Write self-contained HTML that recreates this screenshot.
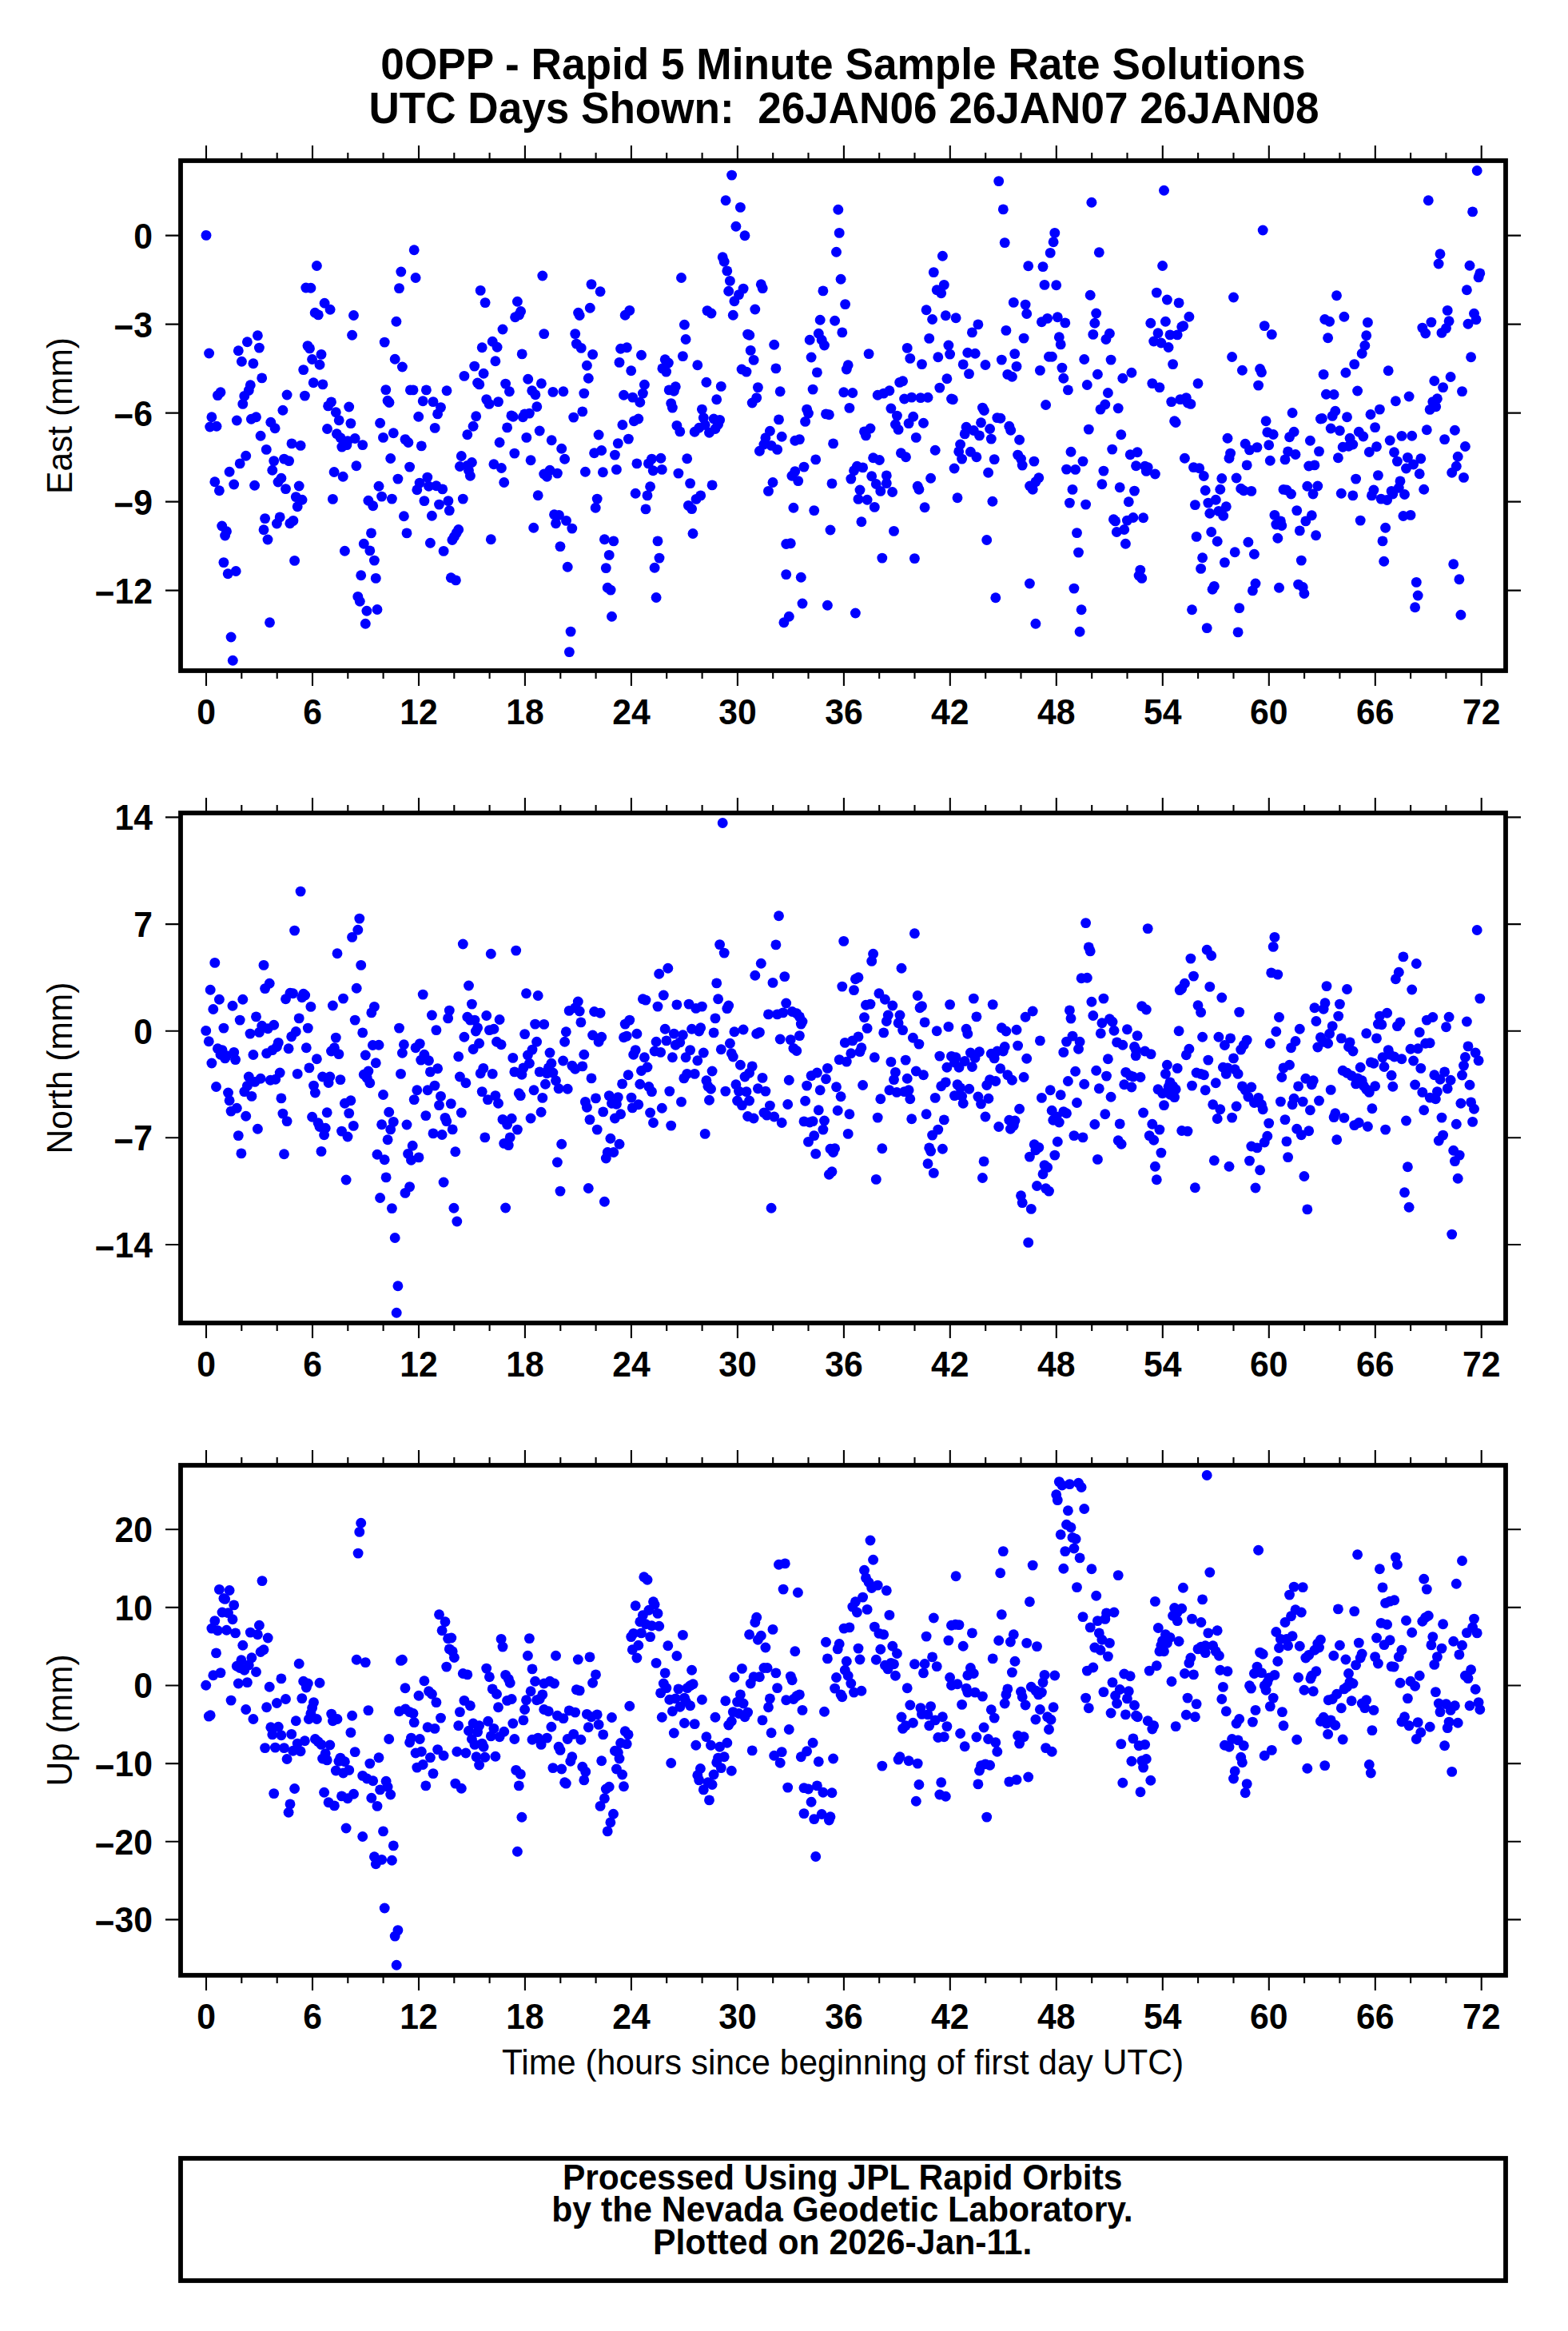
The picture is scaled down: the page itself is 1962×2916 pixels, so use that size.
<!DOCTYPE html>
<html lang="en"><head><meta charset="utf-8"><title>0OPP - Rapid 5 Minute Sample Rate Solutions</title>
<style>html,body{margin:0;padding:0;background:#fff}svg{display:block}text{font-family:"Liberation Sans",Arial,Helvetica,sans-serif;fill:#000}.b{font-weight:bold}.t{font-size:53.2px;text-anchor:middle}.a{font-size:42.7px}.l{font-size:42.5px;text-anchor:middle}.f{font-size:42.7px;text-anchor:middle}</style></head><body>
<svg width="1962" height="2916" viewBox="0 0 1962 2916">
<rect width="1962" height="2916" fill="#fff"/>
<text class="b t" transform="translate(1055.0 98.9) scale(1 1.06)">0OPP - Rapid 5 Minute Sample Rate Solutions</text>
<text class="b t" transform="translate(1056.0 153.8) scale(1 1.06)" xml:space="preserve" style="font-size:53.1px">UTC Days Shown:  26JAN06 26JAN07 26JAN08</text>
<path d="M258.0 201.0v-19.0M258.0 839.0v19.0M302.3 201.0v-10.0M302.3 839.0v10.0M346.7 201.0v-10.0M346.7 839.0v10.0M391.0 201.0v-19.0M391.0 839.0v19.0M435.3 201.0v-10.0M435.3 839.0v10.0M479.6 201.0v-10.0M479.6 839.0v10.0M524.0 201.0v-19.0M524.0 839.0v19.0M568.3 201.0v-10.0M568.3 839.0v10.0M612.6 201.0v-10.0M612.6 839.0v10.0M656.9 201.0v-19.0M656.9 839.0v19.0M701.3 201.0v-10.0M701.3 839.0v10.0M745.6 201.0v-10.0M745.6 839.0v10.0M789.9 201.0v-19.0M789.9 839.0v19.0M834.2 201.0v-10.0M834.2 839.0v10.0M878.6 201.0v-10.0M878.6 839.0v10.0M922.9 201.0v-19.0M922.9 839.0v19.0M967.2 201.0v-10.0M967.2 839.0v10.0M1011.5 201.0v-10.0M1011.5 839.0v10.0M1055.9 201.0v-19.0M1055.9 839.0v19.0M1100.2 201.0v-10.0M1100.2 839.0v10.0M1144.5 201.0v-10.0M1144.5 839.0v10.0M1188.8 201.0v-19.0M1188.8 839.0v19.0M1233.2 201.0v-10.0M1233.2 839.0v10.0M1277.5 201.0v-10.0M1277.5 839.0v10.0M1321.8 201.0v-19.0M1321.8 839.0v19.0M1366.2 201.0v-10.0M1366.2 839.0v10.0M1410.5 201.0v-10.0M1410.5 839.0v10.0M1454.8 201.0v-19.0M1454.8 839.0v19.0M1499.1 201.0v-10.0M1499.1 839.0v10.0M1543.5 201.0v-10.0M1543.5 839.0v10.0M1587.8 201.0v-19.0M1587.8 839.0v19.0M1632.1 201.0v-10.0M1632.1 839.0v10.0M1676.4 201.0v-10.0M1676.4 839.0v10.0M1720.8 201.0v-19.0M1720.8 839.0v19.0M1765.1 201.0v-10.0M1765.1 839.0v10.0M1809.4 201.0v-10.0M1809.4 839.0v10.0M1853.7 201.0v-19.0M1853.7 839.0v19.0M226.0 294.6h-19.0M1884.0 294.6h19.0M226.0 405.6h-19.0M1884.0 405.6h19.0M226.0 516.6h-19.0M1884.0 516.6h19.0M226.0 627.6h-19.0M1884.0 627.6h19.0M226.0 738.6h-19.0M1884.0 738.6h19.0" fill="none" stroke="#000" stroke-width="2.1"/>
<g class="d" fill="#00f">
<circle cx="258.0" cy="294.4" r="6.45"/><circle cx="261.6" cy="442.0" r="6.45"/><circle cx="272.4" cy="494.6" r="6.45"/><circle cx="276.0" cy="490.7" r="6.45"/><circle cx="264.9" cy="521.8" r="6.45"/><circle cx="262.7" cy="534.0" r="6.45"/><circle cx="271.0" cy="533.2" r="6.45"/><circle cx="268.8" cy="602.7" r="6.45"/><circle cx="274.4" cy="613.8" r="6.45"/><circle cx="277.7" cy="658.0" r="6.45"/><circle cx="283.5" cy="664.7" r="6.45"/><circle cx="281.6" cy="670.0" r="6.45"/><circle cx="279.9" cy="703.6" r="6.45"/><circle cx="285.2" cy="717.8" r="6.45"/><circle cx="295.2" cy="714.5" r="6.45"/><circle cx="289.1" cy="797.0" r="6.45"/><circle cx="291.3" cy="826.2" r="6.45"/><circle cx="287.1" cy="590.2" r="6.45"/><circle cx="292.7" cy="606.0" r="6.45"/><circle cx="300.2" cy="579.9" r="6.45"/><circle cx="307.7" cy="570.2" r="6.45"/><circle cx="296.3" cy="526.0" r="6.45"/><circle cx="298.3" cy="438.7" r="6.45"/><circle cx="302.4" cy="452.3" r="6.45"/><circle cx="309.4" cy="427.8" r="6.45"/><circle cx="322.4" cy="419.8" r="6.45"/><circle cx="324.4" cy="435.1" r="6.45"/><circle cx="316.9" cy="454.8" r="6.45"/><circle cx="327.7" cy="472.9" r="6.45"/><circle cx="313.3" cy="481.8" r="6.45"/><circle cx="311.3" cy="488.4" r="6.45"/><circle cx="305.8" cy="495.4" r="6.45"/><circle cx="303.8" cy="505.4" r="6.45"/><circle cx="314.4" cy="524.3" r="6.45"/><circle cx="320.5" cy="521.8" r="6.45"/><circle cx="326.1" cy="545.2" r="6.45"/><circle cx="333.3" cy="562.4" r="6.45"/><circle cx="318.6" cy="607.2" r="6.45"/><circle cx="338.8" cy="528.2" r="6.45"/><circle cx="344.1" cy="535.7" r="6.45"/><circle cx="342.7" cy="576.6" r="6.45"/><circle cx="340.8" cy="588.2" r="6.45"/><circle cx="355.5" cy="574.1" r="6.45"/><circle cx="361.6" cy="576.6" r="6.45"/><circle cx="351.9" cy="598.3" r="6.45"/><circle cx="348.0" cy="603.0" r="6.45"/><circle cx="357.5" cy="611.6" r="6.45"/><circle cx="331.6" cy="648.6" r="6.45"/><circle cx="330.0" cy="662.7" r="6.45"/><circle cx="335.0" cy="675.0" r="6.45"/><circle cx="350.2" cy="646.9" r="6.45"/><circle cx="346.4" cy="655.0" r="6.45"/><circle cx="366.9" cy="651.4" r="6.45"/><circle cx="362.8" cy="654.7" r="6.45"/><circle cx="337.5" cy="778.7" r="6.45"/><circle cx="359.1" cy="494.0" r="6.45"/><circle cx="353.9" cy="513.2" r="6.45"/><circle cx="365.0" cy="554.9" r="6.45"/><circle cx="376.1" cy="557.4" r="6.45"/><circle cx="374.2" cy="608.0" r="6.45"/><circle cx="370.3" cy="621.6" r="6.45"/><circle cx="378.0" cy="625.2" r="6.45"/><circle cx="372.2" cy="633.8" r="6.45"/><circle cx="368.6" cy="701.4" r="6.45"/><circle cx="379.7" cy="462.6" r="6.45"/><circle cx="381.4" cy="495.1" r="6.45"/><circle cx="382.8" cy="360.0" r="6.45"/><circle cx="388.9" cy="360.3" r="6.45"/><circle cx="396.4" cy="332.5" r="6.45"/><circle cx="406.1" cy="379.2" r="6.45"/><circle cx="413.1" cy="387.3" r="6.45"/><circle cx="394.2" cy="391.2" r="6.45"/><circle cx="398.3" cy="393.9" r="6.45"/><circle cx="385.0" cy="432.6" r="6.45"/><circle cx="387.5" cy="435.9" r="6.45"/><circle cx="390.6" cy="449.5" r="6.45"/><circle cx="402.0" cy="443.4" r="6.45"/><circle cx="400.0" cy="456.2" r="6.45"/><circle cx="392.2" cy="478.7" r="6.45"/><circle cx="403.9" cy="480.9" r="6.45"/><circle cx="414.5" cy="502.9" r="6.45"/><circle cx="410.6" cy="507.9" r="6.45"/><circle cx="420.3" cy="515.7" r="6.45"/><circle cx="424.2" cy="525.7" r="6.45"/><circle cx="409.5" cy="536.5" r="6.45"/><circle cx="421.4" cy="542.7" r="6.45"/><circle cx="426.1" cy="547.7" r="6.45"/><circle cx="435.0" cy="551.8" r="6.45"/><circle cx="427.8" cy="559.1" r="6.45"/><circle cx="433.9" cy="556.6" r="6.45"/><circle cx="436.7" cy="509.0" r="6.45"/><circle cx="438.9" cy="529.6" r="6.45"/><circle cx="444.2" cy="548.5" r="6.45"/><circle cx="453.7" cy="556.6" r="6.45"/><circle cx="418.1" cy="590.5" r="6.45"/><circle cx="429.2" cy="596.3" r="6.45"/><circle cx="445.9" cy="582.7" r="6.45"/><circle cx="416.4" cy="624.4" r="6.45"/><circle cx="442.5" cy="394.5" r="6.45"/><circle cx="440.6" cy="419.2" r="6.45"/><circle cx="431.4" cy="689.2" r="6.45"/><circle cx="460.9" cy="626.3" r="6.45"/><circle cx="466.7" cy="632.7" r="6.45"/><circle cx="464.5" cy="666.9" r="6.45"/><circle cx="455.3" cy="680.3" r="6.45"/><circle cx="462.8" cy="688.9" r="6.45"/><circle cx="468.4" cy="701.1" r="6.45"/><circle cx="451.7" cy="719.7" r="6.45"/><circle cx="470.3" cy="723.4" r="6.45"/><circle cx="447.8" cy="746.4" r="6.45"/><circle cx="450.3" cy="752.3" r="6.45"/><circle cx="458.9" cy="764.2" r="6.45"/><circle cx="472.0" cy="762.5" r="6.45"/><circle cx="457.3" cy="780.3" r="6.45"/><circle cx="474.0" cy="608.3" r="6.45"/><circle cx="477.6" cy="621.1" r="6.45"/><circle cx="490.4" cy="624.1" r="6.45"/><circle cx="481.2" cy="428.1" r="6.45"/><circle cx="494.2" cy="449.3" r="6.45"/><circle cx="503.4" cy="459.0" r="6.45"/><circle cx="495.9" cy="402.3" r="6.45"/><circle cx="499.5" cy="360.6" r="6.45"/><circle cx="501.8" cy="340.0" r="6.45"/><circle cx="518.2" cy="312.8" r="6.45"/><circle cx="520.1" cy="347.5" r="6.45"/><circle cx="482.8" cy="487.6" r="6.45"/><circle cx="485.1" cy="501.2" r="6.45"/><circle cx="487.0" cy="503.5" r="6.45"/><circle cx="475.6" cy="529.3" r="6.45"/><circle cx="479.5" cy="547.4" r="6.45"/><circle cx="492.3" cy="541.8" r="6.45"/><circle cx="488.7" cy="573.5" r="6.45"/><circle cx="497.9" cy="599.1" r="6.45"/><circle cx="507.0" cy="549.6" r="6.45"/><circle cx="510.9" cy="553.5" r="6.45"/><circle cx="512.6" cy="584.1" r="6.45"/><circle cx="505.4" cy="645.8" r="6.45"/><circle cx="509.0" cy="666.9" r="6.45"/><circle cx="513.4" cy="487.9" r="6.45"/><circle cx="517.0" cy="487.9" r="6.45"/><circle cx="521.8" cy="612.7" r="6.45"/><circle cx="533.4" cy="487.9" r="6.45"/><circle cx="529.2" cy="501.8" r="6.45"/><circle cx="542.0" cy="502.6" r="6.45"/><circle cx="551.5" cy="509.6" r="6.45"/><circle cx="547.6" cy="517.9" r="6.45"/><circle cx="523.7" cy="521.3" r="6.45"/><circle cx="544.2" cy="535.4" r="6.45"/><circle cx="527.3" cy="557.9" r="6.45"/><circle cx="559.0" cy="488.7" r="6.45"/><circle cx="525.1" cy="604.1" r="6.45"/><circle cx="534.8" cy="597.1" r="6.45"/><circle cx="536.5" cy="608.3" r="6.45"/><circle cx="545.9" cy="607.7" r="6.45"/><circle cx="553.7" cy="611.9" r="6.45"/><circle cx="530.9" cy="626.6" r="6.45"/><circle cx="549.5" cy="631.1" r="6.45"/><circle cx="560.9" cy="626.6" r="6.45"/><circle cx="562.3" cy="638.6" r="6.45"/><circle cx="540.4" cy="645.2" r="6.45"/><circle cx="573.7" cy="662.5" r="6.45"/><circle cx="571.2" cy="666.6" r="6.45"/><circle cx="568.4" cy="671.4" r="6.45"/><circle cx="565.9" cy="675.5" r="6.45"/><circle cx="538.4" cy="679.2" r="6.45"/><circle cx="555.1" cy="689.4" r="6.45"/><circle cx="564.3" cy="722.8" r="6.45"/><circle cx="570.4" cy="725.9" r="6.45"/><circle cx="579.3" cy="624.1" r="6.45"/><circle cx="577.3" cy="570.5" r="6.45"/><circle cx="575.4" cy="583.5" r="6.45"/><circle cx="584.8" cy="582.4" r="6.45"/><circle cx="590.4" cy="578.5" r="6.45"/><circle cx="586.5" cy="588.5" r="6.45"/><circle cx="588.4" cy="595.2" r="6.45"/><circle cx="584.8" cy="543.8" r="6.45"/><circle cx="592.1" cy="533.2" r="6.45"/><circle cx="595.7" cy="520.7" r="6.45"/><circle cx="580.9" cy="470.4" r="6.45"/><circle cx="593.7" cy="458.1" r="6.45"/><circle cx="605.1" cy="467.3" r="6.45"/><circle cx="597.6" cy="479.0" r="6.45"/><circle cx="599.8" cy="480.9" r="6.45"/><circle cx="601.2" cy="363.4" r="6.45"/><circle cx="607.1" cy="378.6" r="6.45"/><circle cx="603.2" cy="434.8" r="6.45"/><circle cx="616.2" cy="427.3" r="6.45"/><circle cx="622.1" cy="434.2" r="6.45"/><circle cx="619.9" cy="451.8" r="6.45"/><circle cx="608.7" cy="499.6" r="6.45"/><circle cx="612.1" cy="505.4" r="6.45"/><circle cx="623.5" cy="502.6" r="6.45"/><circle cx="629.0" cy="412.0" r="6.45"/><circle cx="632.6" cy="480.1" r="6.45"/><circle cx="637.4" cy="489.8" r="6.45"/><circle cx="639.9" cy="519.9" r="6.45"/><circle cx="642.1" cy="521.3" r="6.45"/><circle cx="634.6" cy="534.9" r="6.45"/><circle cx="625.1" cy="553.5" r="6.45"/><circle cx="617.9" cy="580.7" r="6.45"/><circle cx="627.4" cy="585.5" r="6.45"/><circle cx="630.7" cy="603.5" r="6.45"/><circle cx="614.3" cy="674.7" r="6.45"/><circle cx="643.8" cy="567.1" r="6.45"/><circle cx="647.4" cy="377.3" r="6.45"/><circle cx="651.6" cy="389.5" r="6.45"/><circle cx="649.6" cy="393.9" r="6.45"/><circle cx="644.6" cy="396.7" r="6.45"/><circle cx="653.2" cy="442.9" r="6.45"/><circle cx="660.7" cy="474.3" r="6.45"/><circle cx="665.7" cy="488.7" r="6.45"/><circle cx="669.9" cy="493.7" r="6.45"/><circle cx="677.4" cy="479.8" r="6.45"/><circle cx="671.8" cy="508.7" r="6.45"/><circle cx="662.4" cy="517.1" r="6.45"/><circle cx="656.6" cy="517.9" r="6.45"/><circle cx="654.3" cy="521.8" r="6.45"/><circle cx="658.8" cy="547.4" r="6.45"/><circle cx="675.2" cy="539.0" r="6.45"/><circle cx="664.1" cy="575.7" r="6.45"/><circle cx="678.8" cy="345.0" r="6.45"/><circle cx="680.7" cy="417.6" r="6.45"/><circle cx="691.9" cy="490.4" r="6.45"/><circle cx="704.9" cy="489.8" r="6.45"/><circle cx="690.2" cy="550.7" r="6.45"/><circle cx="702.7" cy="561.3" r="6.45"/><circle cx="706.6" cy="574.3" r="6.45"/><circle cx="680.7" cy="593.0" r="6.45"/><circle cx="688.0" cy="588.2" r="6.45"/><circle cx="684.4" cy="596.3" r="6.45"/><circle cx="697.4" cy="592.1" r="6.45"/><circle cx="673.2" cy="619.7" r="6.45"/><circle cx="667.7" cy="660.2" r="6.45"/><circle cx="693.5" cy="643.8" r="6.45"/><circle cx="699.4" cy="644.4" r="6.45"/><circle cx="695.5" cy="654.7" r="6.45"/><circle cx="708.5" cy="651.4" r="6.45"/><circle cx="715.8" cy="661.1" r="6.45"/><circle cx="701.0" cy="683.6" r="6.45"/><circle cx="710.2" cy="709.2" r="6.45"/><circle cx="714.1" cy="790.1" r="6.45"/><circle cx="712.4" cy="815.6" r="6.45"/><circle cx="723.6" cy="391.2" r="6.45"/><circle cx="725.2" cy="394.5" r="6.45"/><circle cx="738.3" cy="385.3" r="6.45"/><circle cx="740.0" cy="355.6" r="6.45"/><circle cx="751.1" cy="364.7" r="6.45"/><circle cx="719.7" cy="417.6" r="6.45"/><circle cx="721.3" cy="430.1" r="6.45"/><circle cx="727.2" cy="435.4" r="6.45"/><circle cx="741.6" cy="443.4" r="6.45"/><circle cx="734.4" cy="457.3" r="6.45"/><circle cx="736.3" cy="473.2" r="6.45"/><circle cx="730.8" cy="492.1" r="6.45"/><circle cx="728.8" cy="514.9" r="6.45"/><circle cx="717.7" cy="522.1" r="6.45"/><circle cx="749.1" cy="544.0" r="6.45"/><circle cx="743.6" cy="566.8" r="6.45"/><circle cx="752.7" cy="563.5" r="6.45"/><circle cx="732.4" cy="590.2" r="6.45"/><circle cx="754.4" cy="590.7" r="6.45"/><circle cx="747.2" cy="624.1" r="6.45"/><circle cx="745.2" cy="635.2" r="6.45"/><circle cx="756.4" cy="674.7" r="6.45"/><circle cx="767.8" cy="676.9" r="6.45"/><circle cx="762.2" cy="694.4" r="6.45"/><circle cx="758.3" cy="710.6" r="6.45"/><circle cx="760.2" cy="735.3" r="6.45"/><circle cx="764.1" cy="738.1" r="6.45"/><circle cx="765.5" cy="771.2" r="6.45"/><circle cx="769.4" cy="569.1" r="6.45"/><circle cx="771.4" cy="587.4" r="6.45"/><circle cx="773.3" cy="554.6" r="6.45"/><circle cx="778.9" cy="531.5" r="6.45"/><circle cx="786.4" cy="549.1" r="6.45"/><circle cx="775.0" cy="453.4" r="6.45"/><circle cx="776.6" cy="436.2" r="6.45"/><circle cx="784.4" cy="434.8" r="6.45"/><circle cx="780.5" cy="494.3" r="6.45"/><circle cx="782.2" cy="394.2" r="6.45"/><circle cx="787.8" cy="388.4" r="6.45"/><circle cx="789.7" cy="463.7" r="6.45"/><circle cx="802.5" cy="444.2" r="6.45"/><circle cx="806.4" cy="481.2" r="6.45"/><circle cx="804.4" cy="492.1" r="6.45"/><circle cx="791.6" cy="497.1" r="6.45"/><circle cx="800.8" cy="503.2" r="6.45"/><circle cx="793.3" cy="526.8" r="6.45"/><circle cx="798.8" cy="524.0" r="6.45"/><circle cx="796.9" cy="579.9" r="6.45"/><circle cx="815.5" cy="574.1" r="6.45"/><circle cx="811.4" cy="579.9" r="6.45"/><circle cx="826.9" cy="573.2" r="6.45"/><circle cx="817.2" cy="588.8" r="6.45"/><circle cx="828.3" cy="587.4" r="6.45"/><circle cx="813.6" cy="608.8" r="6.45"/><circle cx="795.2" cy="617.2" r="6.45"/><circle cx="810.0" cy="619.9" r="6.45"/><circle cx="808.0" cy="636.9" r="6.45"/><circle cx="823.0" cy="676.9" r="6.45"/><circle cx="825.0" cy="698.1" r="6.45"/><circle cx="819.1" cy="710.3" r="6.45"/><circle cx="821.1" cy="747.5" r="6.45"/><circle cx="832.2" cy="449.8" r="6.45"/><circle cx="836.4" cy="454.0" r="6.45"/><circle cx="828.9" cy="460.9" r="6.45"/><circle cx="833.6" cy="465.1" r="6.45"/><circle cx="845.3" cy="483.7" r="6.45"/><circle cx="837.2" cy="487.9" r="6.45"/><circle cx="843.3" cy="489.3" r="6.45"/><circle cx="839.7" cy="504.6" r="6.45"/><circle cx="841.4" cy="510.1" r="6.45"/><circle cx="846.9" cy="532.4" r="6.45"/><circle cx="850.8" cy="539.9" r="6.45"/><circle cx="852.5" cy="347.5" r="6.45"/><circle cx="856.4" cy="406.2" r="6.45"/><circle cx="858.1" cy="424.5" r="6.45"/><circle cx="854.4" cy="445.6" r="6.45"/><circle cx="872.8" cy="456.8" r="6.45"/><circle cx="859.7" cy="573.8" r="6.45"/><circle cx="848.9" cy="592.1" r="6.45"/><circle cx="863.6" cy="604.6" r="6.45"/><circle cx="876.7" cy="619.9" r="6.45"/><circle cx="871.1" cy="624.4" r="6.45"/><circle cx="861.4" cy="632.4" r="6.45"/><circle cx="865.6" cy="636.6" r="6.45"/><circle cx="867.0" cy="667.5" r="6.45"/><circle cx="891.1" cy="606.9" r="6.45"/><circle cx="883.9" cy="478.2" r="6.45"/><circle cx="902.3" cy="483.4" r="6.45"/><circle cx="896.7" cy="499.8" r="6.45"/><circle cx="878.4" cy="512.1" r="6.45"/><circle cx="880.3" cy="522.6" r="6.45"/><circle cx="882.2" cy="531.5" r="6.45"/><circle cx="874.7" cy="535.2" r="6.45"/><circle cx="869.2" cy="540.2" r="6.45"/><circle cx="893.1" cy="524.0" r="6.45"/><circle cx="900.6" cy="525.4" r="6.45"/><circle cx="898.6" cy="531.0" r="6.45"/><circle cx="895.0" cy="536.5" r="6.45"/><circle cx="887.5" cy="541.3" r="6.45"/><circle cx="885.0" cy="388.6" r="6.45"/><circle cx="890.0" cy="392.0" r="6.45"/><circle cx="915.6" cy="219.1" r="6.45"/><circle cx="908.1" cy="250.8" r="6.45"/><circle cx="926.4" cy="259.4" r="6.45"/><circle cx="920.9" cy="283.3" r="6.45"/><circle cx="932.0" cy="294.7" r="6.45"/><circle cx="904.2" cy="321.7" r="6.45"/><circle cx="906.2" cy="327.2" r="6.45"/><circle cx="909.8" cy="338.9" r="6.45"/><circle cx="913.4" cy="351.4" r="6.45"/><circle cx="911.7" cy="364.2" r="6.45"/><circle cx="930.1" cy="361.1" r="6.45"/><circle cx="924.5" cy="368.6" r="6.45"/><circle cx="918.9" cy="376.7" r="6.45"/><circle cx="917.3" cy="394.2" r="6.45"/><circle cx="952.3" cy="355.8" r="6.45"/><circle cx="954.2" cy="360.6" r="6.45"/><circle cx="944.8" cy="387.0" r="6.45"/><circle cx="935.6" cy="418.1" r="6.45"/><circle cx="937.8" cy="419.2" r="6.45"/><circle cx="939.2" cy="438.4" r="6.45"/><circle cx="943.1" cy="450.4" r="6.45"/><circle cx="928.1" cy="462.0" r="6.45"/><circle cx="934.0" cy="465.1" r="6.45"/><circle cx="948.4" cy="484.6" r="6.45"/><circle cx="946.7" cy="497.6" r="6.45"/><circle cx="941.2" cy="504.0" r="6.45"/><circle cx="968.7" cy="431.2" r="6.45"/><circle cx="970.9" cy="460.9" r="6.45"/><circle cx="976.2" cy="489.8" r="6.45"/><circle cx="974.5" cy="524.9" r="6.45"/><circle cx="963.4" cy="539.3" r="6.45"/><circle cx="957.9" cy="547.7" r="6.45"/><circle cx="978.2" cy="546.3" r="6.45"/><circle cx="955.9" cy="556.0" r="6.45"/><circle cx="965.1" cy="557.4" r="6.45"/><circle cx="972.6" cy="562.4" r="6.45"/><circle cx="950.4" cy="564.3" r="6.45"/><circle cx="967.0" cy="603.5" r="6.45"/><circle cx="961.5" cy="614.4" r="6.45"/><circle cx="992.9" cy="635.2" r="6.45"/><circle cx="983.7" cy="680.5" r="6.45"/><circle cx="989.3" cy="679.7" r="6.45"/><circle cx="983.7" cy="718.6" r="6.45"/><circle cx="1002.3" cy="722.2" r="6.45"/><circle cx="1004.0" cy="755.0" r="6.45"/><circle cx="987.3" cy="771.2" r="6.45"/><circle cx="980.9" cy="778.7" r="6.45"/><circle cx="994.8" cy="551.3" r="6.45"/><circle cx="1000.4" cy="549.6" r="6.45"/><circle cx="994.8" cy="589.6" r="6.45"/><circle cx="990.9" cy="595.2" r="6.45"/><circle cx="998.7" cy="601.6" r="6.45"/><circle cx="1006.0" cy="584.1" r="6.45"/><circle cx="1020.7" cy="574.9" r="6.45"/><circle cx="1018.7" cy="638.6" r="6.45"/><circle cx="1039.0" cy="663.0" r="6.45"/><circle cx="1035.4" cy="757.3" r="6.45"/><circle cx="1041.0" cy="604.9" r="6.45"/><circle cx="1042.6" cy="554.9" r="6.45"/><circle cx="1009.6" cy="512.1" r="6.45"/><circle cx="1011.5" cy="517.1" r="6.45"/><circle cx="1007.6" cy="527.4" r="6.45"/><circle cx="1033.5" cy="517.9" r="6.45"/><circle cx="1037.4" cy="518.7" r="6.45"/><circle cx="1017.1" cy="487.1" r="6.45"/><circle cx="1022.4" cy="465.9" r="6.45"/><circle cx="1015.1" cy="447.0" r="6.45"/><circle cx="1013.2" cy="425.3" r="6.45"/><circle cx="1024.3" cy="417.3" r="6.45"/><circle cx="1028.2" cy="425.3" r="6.45"/><circle cx="1031.5" cy="432.0" r="6.45"/><circle cx="1026.2" cy="400.3" r="6.45"/><circle cx="1044.6" cy="401.2" r="6.45"/><circle cx="1053.8" cy="415.9" r="6.45"/><circle cx="1029.9" cy="363.9" r="6.45"/><circle cx="1048.8" cy="262.2" r="6.45"/><circle cx="1050.2" cy="291.4" r="6.45"/><circle cx="1046.5" cy="315.3" r="6.45"/><circle cx="1052.1" cy="349.2" r="6.45"/><circle cx="1057.6" cy="380.6" r="6.45"/><circle cx="1061.2" cy="456.8" r="6.45"/><circle cx="1059.3" cy="462.0" r="6.45"/><circle cx="1055.7" cy="490.7" r="6.45"/><circle cx="1066.8" cy="491.5" r="6.45"/><circle cx="1062.9" cy="510.4" r="6.45"/><circle cx="1087.1" cy="442.6" r="6.45"/><circle cx="1089.0" cy="536.0" r="6.45"/><circle cx="1081.5" cy="539.9" r="6.45"/><circle cx="1083.5" cy="544.9" r="6.45"/><circle cx="1072.4" cy="583.2" r="6.45"/><circle cx="1079.6" cy="584.9" r="6.45"/><circle cx="1068.5" cy="588.8" r="6.45"/><circle cx="1064.8" cy="599.1" r="6.45"/><circle cx="1092.6" cy="572.7" r="6.45"/><circle cx="1100.4" cy="575.5" r="6.45"/><circle cx="1090.7" cy="595.8" r="6.45"/><circle cx="1109.3" cy="594.9" r="6.45"/><circle cx="1096.3" cy="605.5" r="6.45"/><circle cx="1109.3" cy="604.6" r="6.45"/><circle cx="1076.0" cy="613.0" r="6.45"/><circle cx="1101.8" cy="614.4" r="6.45"/><circle cx="1116.6" cy="615.5" r="6.45"/><circle cx="1074.0" cy="624.4" r="6.45"/><circle cx="1085.1" cy="625.2" r="6.45"/><circle cx="1094.3" cy="634.4" r="6.45"/><circle cx="1077.9" cy="652.7" r="6.45"/><circle cx="1118.5" cy="664.4" r="6.45"/><circle cx="1103.8" cy="698.1" r="6.45"/><circle cx="1070.4" cy="767.0" r="6.45"/><circle cx="1098.2" cy="494.3" r="6.45"/><circle cx="1105.7" cy="492.1" r="6.45"/><circle cx="1112.9" cy="488.7" r="6.45"/><circle cx="1125.7" cy="478.4" r="6.45"/><circle cx="1129.6" cy="476.8" r="6.45"/><circle cx="1114.9" cy="511.0" r="6.45"/><circle cx="1122.4" cy="520.1" r="6.45"/><circle cx="1120.4" cy="531.0" r="6.45"/><circle cx="1124.1" cy="537.4" r="6.45"/><circle cx="1131.6" cy="499.0" r="6.45"/><circle cx="1140.7" cy="497.1" r="6.45"/><circle cx="1151.9" cy="497.6" r="6.45"/><circle cx="1161.0" cy="497.3" r="6.45"/><circle cx="1135.2" cy="435.4" r="6.45"/><circle cx="1138.8" cy="448.4" r="6.45"/><circle cx="1153.5" cy="455.6" r="6.45"/><circle cx="1142.7" cy="521.3" r="6.45"/><circle cx="1137.1" cy="529.6" r="6.45"/><circle cx="1155.5" cy="529.3" r="6.45"/><circle cx="1146.3" cy="547.4" r="6.45"/><circle cx="1127.4" cy="566.8" r="6.45"/><circle cx="1133.5" cy="571.8" r="6.45"/><circle cx="1148.2" cy="608.3" r="6.45"/><circle cx="1149.9" cy="612.2" r="6.45"/><circle cx="1164.6" cy="598.3" r="6.45"/><circle cx="1157.1" cy="634.7" r="6.45"/><circle cx="1144.4" cy="698.6" r="6.45"/><circle cx="1170.2" cy="563.2" r="6.45"/><circle cx="1159.1" cy="387.8" r="6.45"/><circle cx="1166.6" cy="399.5" r="6.45"/><circle cx="1162.7" cy="423.4" r="6.45"/><circle cx="1168.3" cy="340.6" r="6.45"/><circle cx="1179.4" cy="320.3" r="6.45"/><circle cx="1181.3" cy="356.4" r="6.45"/><circle cx="1172.2" cy="362.8" r="6.45"/><circle cx="1177.7" cy="366.7" r="6.45"/><circle cx="1183.3" cy="394.8" r="6.45"/><circle cx="1196.1" cy="397.8" r="6.45"/><circle cx="1186.9" cy="432.0" r="6.45"/><circle cx="1188.6" cy="443.1" r="6.45"/><circle cx="1173.8" cy="446.7" r="6.45"/><circle cx="1184.9" cy="473.7" r="6.45"/><circle cx="1175.8" cy="485.1" r="6.45"/><circle cx="1190.5" cy="499.0" r="6.45"/><circle cx="1192.4" cy="499.8" r="6.45"/><circle cx="1205.2" cy="455.9" r="6.45"/><circle cx="1212.5" cy="467.6" r="6.45"/><circle cx="1210.8" cy="441.2" r="6.45"/><circle cx="1220.2" cy="442.3" r="6.45"/><circle cx="1216.4" cy="415.9" r="6.45"/><circle cx="1223.9" cy="405.9" r="6.45"/><circle cx="1233.0" cy="456.5" r="6.45"/><circle cx="1229.4" cy="510.1" r="6.45"/><circle cx="1231.4" cy="513.5" r="6.45"/><circle cx="1227.5" cy="528.8" r="6.45"/><circle cx="1209.1" cy="534.3" r="6.45"/><circle cx="1207.2" cy="542.9" r="6.45"/><circle cx="1218.3" cy="538.5" r="6.45"/><circle cx="1225.5" cy="544.9" r="6.45"/><circle cx="1238.6" cy="536.5" r="6.45"/><circle cx="1240.3" cy="549.1" r="6.45"/><circle cx="1201.6" cy="556.0" r="6.45"/><circle cx="1199.7" cy="564.9" r="6.45"/><circle cx="1203.6" cy="574.1" r="6.45"/><circle cx="1214.4" cy="565.2" r="6.45"/><circle cx="1221.9" cy="571.8" r="6.45"/><circle cx="1194.1" cy="586.0" r="6.45"/><circle cx="1198.0" cy="622.7" r="6.45"/><circle cx="1244.2" cy="574.6" r="6.45"/><circle cx="1236.6" cy="591.3" r="6.45"/><circle cx="1241.9" cy="627.2" r="6.45"/><circle cx="1234.7" cy="675.5" r="6.45"/><circle cx="1245.8" cy="747.8" r="6.45"/><circle cx="1249.7" cy="226.6" r="6.45"/><circle cx="1255.3" cy="261.9" r="6.45"/><circle cx="1257.2" cy="303.6" r="6.45"/><circle cx="1258.9" cy="413.4" r="6.45"/><circle cx="1253.3" cy="450.1" r="6.45"/><circle cx="1247.8" cy="522.6" r="6.45"/><circle cx="1251.9" cy="523.2" r="6.45"/><circle cx="1262.8" cy="533.2" r="6.45"/><circle cx="1264.7" cy="538.2" r="6.45"/><circle cx="1275.6" cy="550.2" r="6.45"/><circle cx="1273.6" cy="569.1" r="6.45"/><circle cx="1277.5" cy="574.1" r="6.45"/><circle cx="1279.2" cy="582.1" r="6.45"/><circle cx="1293.9" cy="577.1" r="6.45"/><circle cx="1299.8" cy="597.7" r="6.45"/><circle cx="1295.9" cy="602.7" r="6.45"/><circle cx="1288.6" cy="608.0" r="6.45"/><circle cx="1292.2" cy="612.2" r="6.45"/><circle cx="1288.4" cy="730.0" r="6.45"/><circle cx="1295.9" cy="780.3" r="6.45"/><circle cx="1260.8" cy="468.4" r="6.45"/><circle cx="1266.4" cy="471.2" r="6.45"/><circle cx="1272.0" cy="458.4" r="6.45"/><circle cx="1269.7" cy="442.6" r="6.45"/><circle cx="1268.3" cy="378.4" r="6.45"/><circle cx="1283.1" cy="381.1" r="6.45"/><circle cx="1284.7" cy="392.5" r="6.45"/><circle cx="1281.1" cy="423.1" r="6.45"/><circle cx="1286.7" cy="332.8" r="6.45"/><circle cx="1305.0" cy="333.6" r="6.45"/><circle cx="1307.0" cy="356.4" r="6.45"/><circle cx="1319.8" cy="291.4" r="6.45"/><circle cx="1318.1" cy="302.7" r="6.45"/><circle cx="1314.2" cy="316.4" r="6.45"/><circle cx="1303.4" cy="402.8" r="6.45"/><circle cx="1310.6" cy="398.4" r="6.45"/><circle cx="1301.4" cy="463.4" r="6.45"/><circle cx="1312.5" cy="446.2" r="6.45"/><circle cx="1316.4" cy="446.2" r="6.45"/><circle cx="1308.6" cy="506.5" r="6.45"/><circle cx="1321.7" cy="356.7" r="6.45"/><circle cx="1323.3" cy="396.7" r="6.45"/><circle cx="1332.8" cy="403.9" r="6.45"/><circle cx="1325.3" cy="421.7" r="6.45"/><circle cx="1327.2" cy="430.9" r="6.45"/><circle cx="1328.9" cy="460.1" r="6.45"/><circle cx="1330.8" cy="473.2" r="6.45"/><circle cx="1336.4" cy="487.9" r="6.45"/><circle cx="1340.0" cy="565.2" r="6.45"/><circle cx="1355.0" cy="577.1" r="6.45"/><circle cx="1334.5" cy="587.1" r="6.45"/><circle cx="1345.6" cy="587.4" r="6.45"/><circle cx="1342.0" cy="612.4" r="6.45"/><circle cx="1338.4" cy="629.1" r="6.45"/><circle cx="1358.6" cy="631.1" r="6.45"/><circle cx="1347.5" cy="666.6" r="6.45"/><circle cx="1349.5" cy="691.1" r="6.45"/><circle cx="1343.9" cy="736.1" r="6.45"/><circle cx="1353.1" cy="762.8" r="6.45"/><circle cx="1351.1" cy="790.3" r="6.45"/><circle cx="1365.9" cy="253.3" r="6.45"/><circle cx="1375.3" cy="315.8" r="6.45"/><circle cx="1364.2" cy="369.2" r="6.45"/><circle cx="1371.7" cy="392.0" r="6.45"/><circle cx="1369.8" cy="404.2" r="6.45"/><circle cx="1367.8" cy="418.4" r="6.45"/><circle cx="1388.4" cy="417.3" r="6.45"/><circle cx="1383.9" cy="424.5" r="6.45"/><circle cx="1356.7" cy="449.5" r="6.45"/><circle cx="1390.1" cy="450.1" r="6.45"/><circle cx="1373.4" cy="468.2" r="6.45"/><circle cx="1360.3" cy="481.5" r="6.45"/><circle cx="1386.4" cy="491.5" r="6.45"/><circle cx="1382.8" cy="506.0" r="6.45"/><circle cx="1377.0" cy="512.1" r="6.45"/><circle cx="1399.2" cy="510.7" r="6.45"/><circle cx="1362.3" cy="537.1" r="6.45"/><circle cx="1404.8" cy="473.2" r="6.45"/><circle cx="1415.9" cy="466.2" r="6.45"/><circle cx="1402.8" cy="543.8" r="6.45"/><circle cx="1391.7" cy="562.1" r="6.45"/><circle cx="1380.9" cy="589.1" r="6.45"/><circle cx="1378.9" cy="605.8" r="6.45"/><circle cx="1401.2" cy="609.7" r="6.45"/><circle cx="1414.2" cy="568.8" r="6.45"/><circle cx="1423.1" cy="565.7" r="6.45"/><circle cx="1421.5" cy="582.7" r="6.45"/><circle cx="1432.6" cy="583.2" r="6.45"/><circle cx="1436.2" cy="584.6" r="6.45"/><circle cx="1434.3" cy="589.4" r="6.45"/><circle cx="1445.4" cy="593.0" r="6.45"/><circle cx="1419.5" cy="614.1" r="6.45"/><circle cx="1412.3" cy="627.7" r="6.45"/><circle cx="1393.4" cy="649.7" r="6.45"/><circle cx="1395.6" cy="651.9" r="6.45"/><circle cx="1410.4" cy="651.1" r="6.45"/><circle cx="1417.9" cy="647.5" r="6.45"/><circle cx="1430.6" cy="647.7" r="6.45"/><circle cx="1406.7" cy="662.5" r="6.45"/><circle cx="1397.3" cy="665.5" r="6.45"/><circle cx="1408.4" cy="680.3" r="6.45"/><circle cx="1426.8" cy="713.1" r="6.45"/><circle cx="1425.1" cy="720.0" r="6.45"/><circle cx="1428.7" cy="723.4" r="6.45"/><circle cx="1439.8" cy="404.2" r="6.45"/><circle cx="1447.3" cy="366.1" r="6.45"/><circle cx="1460.4" cy="375.0" r="6.45"/><circle cx="1475.1" cy="378.9" r="6.45"/><circle cx="1454.6" cy="332.5" r="6.45"/><circle cx="1456.5" cy="238.3" r="6.45"/><circle cx="1458.4" cy="402.3" r="6.45"/><circle cx="1449.0" cy="416.7" r="6.45"/><circle cx="1443.7" cy="427.0" r="6.45"/><circle cx="1452.9" cy="429.0" r="6.45"/><circle cx="1462.1" cy="434.5" r="6.45"/><circle cx="1464.0" cy="418.9" r="6.45"/><circle cx="1473.2" cy="418.9" r="6.45"/><circle cx="1478.7" cy="408.7" r="6.45"/><circle cx="1480.7" cy="407.8" r="6.45"/><circle cx="1487.9" cy="396.2" r="6.45"/><circle cx="1467.6" cy="455.6" r="6.45"/><circle cx="1441.8" cy="479.6" r="6.45"/><circle cx="1450.9" cy="484.6" r="6.45"/><circle cx="1465.7" cy="502.6" r="6.45"/><circle cx="1476.8" cy="499.6" r="6.45"/><circle cx="1484.3" cy="497.6" r="6.45"/><circle cx="1486.2" cy="504.0" r="6.45"/><circle cx="1489.9" cy="505.4" r="6.45"/><circle cx="1469.6" cy="526.8" r="6.45"/><circle cx="1471.2" cy="528.5" r="6.45"/><circle cx="1499.0" cy="479.8" r="6.45"/><circle cx="1482.4" cy="573.2" r="6.45"/><circle cx="1493.5" cy="584.6" r="6.45"/><circle cx="1500.7" cy="585.7" r="6.45"/><circle cx="1506.3" cy="595.5" r="6.45"/><circle cx="1508.2" cy="613.5" r="6.45"/><circle cx="1495.4" cy="631.6" r="6.45"/><circle cx="1511.8" cy="629.1" r="6.45"/><circle cx="1521.3" cy="625.2" r="6.45"/><circle cx="1513.8" cy="642.2" r="6.45"/><circle cx="1524.9" cy="639.4" r="6.45"/><circle cx="1530.7" cy="645.2" r="6.45"/><circle cx="1534.3" cy="633.8" r="6.45"/><circle cx="1526.8" cy="612.2" r="6.45"/><circle cx="1528.8" cy="598.5" r="6.45"/><circle cx="1515.7" cy="665.5" r="6.45"/><circle cx="1497.1" cy="671.4" r="6.45"/><circle cx="1523.2" cy="677.2" r="6.45"/><circle cx="1504.6" cy="697.8" r="6.45"/><circle cx="1502.6" cy="711.4" r="6.45"/><circle cx="1532.4" cy="703.6" r="6.45"/><circle cx="1519.3" cy="733.4" r="6.45"/><circle cx="1517.1" cy="737.3" r="6.45"/><circle cx="1491.5" cy="762.8" r="6.45"/><circle cx="1510.2" cy="785.6" r="6.45"/><circle cx="1536.0" cy="548.2" r="6.45"/><circle cx="1539.6" cy="567.1" r="6.45"/><circle cx="1538.0" cy="573.2" r="6.45"/><circle cx="1547.1" cy="598.0" r="6.45"/><circle cx="1552.7" cy="611.3" r="6.45"/><circle cx="1556.3" cy="613.8" r="6.45"/><circle cx="1565.8" cy="614.4" r="6.45"/><circle cx="1560.2" cy="581.9" r="6.45"/><circle cx="1558.2" cy="555.2" r="6.45"/><circle cx="1563.5" cy="562.9" r="6.45"/><circle cx="1573.0" cy="559.6" r="6.45"/><circle cx="1543.5" cy="372.0" r="6.45"/><circle cx="1541.6" cy="446.5" r="6.45"/><circle cx="1554.4" cy="463.2" r="6.45"/><circle cx="1576.6" cy="461.5" r="6.45"/><circle cx="1578.5" cy="465.7" r="6.45"/><circle cx="1574.6" cy="482.1" r="6.45"/><circle cx="1582.2" cy="407.6" r="6.45"/><circle cx="1580.2" cy="288.0" r="6.45"/><circle cx="1584.1" cy="526.8" r="6.45"/><circle cx="1585.8" cy="540.7" r="6.45"/><circle cx="1561.9" cy="678.3" r="6.45"/><circle cx="1545.2" cy="690.8" r="6.45"/><circle cx="1569.4" cy="693.3" r="6.45"/><circle cx="1571.0" cy="730.0" r="6.45"/><circle cx="1567.4" cy="738.9" r="6.45"/><circle cx="1550.7" cy="760.6" r="6.45"/><circle cx="1549.1" cy="790.9" r="6.45"/><circle cx="1591.3" cy="418.4" r="6.45"/><circle cx="1593.2" cy="543.5" r="6.45"/><circle cx="1587.7" cy="556.8" r="6.45"/><circle cx="1589.3" cy="576.3" r="6.45"/><circle cx="1594.9" cy="644.4" r="6.45"/><circle cx="1596.8" cy="656.1" r="6.45"/><circle cx="1603.8" cy="657.5" r="6.45"/><circle cx="1602.4" cy="651.9" r="6.45"/><circle cx="1598.8" cy="673.3" r="6.45"/><circle cx="1600.5" cy="735.3" r="6.45"/><circle cx="1617.1" cy="516.5" r="6.45"/><circle cx="1619.1" cy="540.2" r="6.45"/><circle cx="1613.5" cy="546.8" r="6.45"/><circle cx="1611.6" cy="564.9" r="6.45"/><circle cx="1621.0" cy="568.5" r="6.45"/><circle cx="1608.0" cy="574.9" r="6.45"/><circle cx="1606.0" cy="612.4" r="6.45"/><circle cx="1609.9" cy="613.0" r="6.45"/><circle cx="1615.5" cy="618.0" r="6.45"/><circle cx="1622.7" cy="638.6" r="6.45"/><circle cx="1626.3" cy="663.9" r="6.45"/><circle cx="1628.3" cy="701.1" r="6.45"/><circle cx="1624.6" cy="731.1" r="6.45"/><circle cx="1630.2" cy="734.5" r="6.45"/><circle cx="1631.9" cy="742.5" r="6.45"/><circle cx="1639.4" cy="551.3" r="6.45"/><circle cx="1650.5" cy="564.6" r="6.45"/><circle cx="1637.7" cy="583.0" r="6.45"/><circle cx="1644.9" cy="581.9" r="6.45"/><circle cx="1635.8" cy="608.3" r="6.45"/><circle cx="1648.8" cy="608.0" r="6.45"/><circle cx="1643.0" cy="618.0" r="6.45"/><circle cx="1641.3" cy="644.7" r="6.45"/><circle cx="1633.8" cy="651.9" r="6.45"/><circle cx="1646.6" cy="669.7" r="6.45"/><circle cx="1652.4" cy="524.0" r="6.45"/><circle cx="1654.4" cy="523.5" r="6.45"/><circle cx="1656.1" cy="468.4" r="6.45"/><circle cx="1657.7" cy="399.5" r="6.45"/><circle cx="1663.6" cy="402.3" r="6.45"/><circle cx="1661.6" cy="422.8" r="6.45"/><circle cx="1672.5" cy="369.7" r="6.45"/><circle cx="1681.9" cy="396.2" r="6.45"/><circle cx="1659.4" cy="493.2" r="6.45"/><circle cx="1669.1" cy="493.5" r="6.45"/><circle cx="1670.8" cy="514.3" r="6.45"/><circle cx="1667.2" cy="520.4" r="6.45"/><circle cx="1665.2" cy="536.0" r="6.45"/><circle cx="1676.4" cy="538.8" r="6.45"/><circle cx="1685.5" cy="521.8" r="6.45"/><circle cx="1674.4" cy="572.7" r="6.45"/><circle cx="1680.2" cy="559.3" r="6.45"/><circle cx="1687.5" cy="558.2" r="6.45"/><circle cx="1689.1" cy="548.2" r="6.45"/><circle cx="1692.8" cy="556.0" r="6.45"/><circle cx="1678.3" cy="617.2" r="6.45"/><circle cx="1692.8" cy="619.9" r="6.45"/><circle cx="1696.6" cy="599.1" r="6.45"/><circle cx="1702.2" cy="651.1" r="6.45"/><circle cx="1683.9" cy="466.2" r="6.45"/><circle cx="1694.7" cy="455.6" r="6.45"/><circle cx="1698.6" cy="489.0" r="6.45"/><circle cx="1704.2" cy="442.3" r="6.45"/><circle cx="1707.8" cy="432.3" r="6.45"/><circle cx="1709.7" cy="419.8" r="6.45"/><circle cx="1711.4" cy="403.4" r="6.45"/><circle cx="1700.3" cy="540.2" r="6.45"/><circle cx="1705.8" cy="546.0" r="6.45"/><circle cx="1715.0" cy="518.5" r="6.45"/><circle cx="1726.4" cy="512.1" r="6.45"/><circle cx="1720.6" cy="534.6" r="6.45"/><circle cx="1713.3" cy="565.5" r="6.45"/><circle cx="1722.5" cy="558.8" r="6.45"/><circle cx="1724.4" cy="594.6" r="6.45"/><circle cx="1718.9" cy="613.0" r="6.45"/><circle cx="1716.4" cy="619.9" r="6.45"/><circle cx="1728.1" cy="624.1" r="6.45"/><circle cx="1735.6" cy="625.5" r="6.45"/><circle cx="1741.1" cy="614.4" r="6.45"/><circle cx="1742.8" cy="618.0" r="6.45"/><circle cx="1733.6" cy="660.2" r="6.45"/><circle cx="1730.0" cy="676.9" r="6.45"/><circle cx="1731.7" cy="702.2" r="6.45"/><circle cx="1737.2" cy="463.7" r="6.45"/><circle cx="1746.4" cy="501.8" r="6.45"/><circle cx="1763.1" cy="496.0" r="6.45"/><circle cx="1739.2" cy="551.0" r="6.45"/><circle cx="1753.9" cy="545.4" r="6.45"/><circle cx="1766.7" cy="545.2" r="6.45"/><circle cx="1744.5" cy="565.7" r="6.45"/><circle cx="1748.4" cy="577.1" r="6.45"/><circle cx="1761.4" cy="572.4" r="6.45"/><circle cx="1759.5" cy="586.0" r="6.45"/><circle cx="1768.6" cy="581.0" r="6.45"/><circle cx="1777.8" cy="573.8" r="6.45"/><circle cx="1776.2" cy="592.7" r="6.45"/><circle cx="1752.0" cy="601.9" r="6.45"/><circle cx="1750.3" cy="610.2" r="6.45"/><circle cx="1757.5" cy="618.5" r="6.45"/><circle cx="1755.9" cy="645.5" r="6.45"/><circle cx="1765.0" cy="644.4" r="6.45"/><circle cx="1781.7" cy="612.2" r="6.45"/><circle cx="1772.3" cy="728.4" r="6.45"/><circle cx="1774.2" cy="745.0" r="6.45"/><circle cx="1770.6" cy="759.8" r="6.45"/><circle cx="1785.3" cy="537.7" r="6.45"/><circle cx="1787.3" cy="250.8" r="6.45"/><circle cx="1779.8" cy="410.1" r="6.45"/><circle cx="1783.7" cy="417.0" r="6.45"/><circle cx="1790.9" cy="403.1" r="6.45"/><circle cx="1794.8" cy="476.5" r="6.45"/><circle cx="1805.6" cy="484.6" r="6.45"/><circle cx="1815.1" cy="471.5" r="6.45"/><circle cx="1798.4" cy="498.7" r="6.45"/><circle cx="1792.8" cy="502.6" r="6.45"/><circle cx="1796.7" cy="508.7" r="6.45"/><circle cx="1789.2" cy="512.4" r="6.45"/><circle cx="1807.6" cy="549.6" r="6.45"/><circle cx="1820.4" cy="538.2" r="6.45"/><circle cx="1802.0" cy="317.8" r="6.45"/><circle cx="1800.1" cy="330.0" r="6.45"/><circle cx="1811.2" cy="388.4" r="6.45"/><circle cx="1813.1" cy="401.7" r="6.45"/><circle cx="1809.5" cy="410.6" r="6.45"/><circle cx="1804.0" cy="416.4" r="6.45"/><circle cx="1829.5" cy="489.6" r="6.45"/><circle cx="1833.4" cy="558.5" r="6.45"/><circle cx="1824.2" cy="571.3" r="6.45"/><circle cx="1822.3" cy="583.2" r="6.45"/><circle cx="1816.7" cy="591.3" r="6.45"/><circle cx="1831.5" cy="597.4" r="6.45"/><circle cx="1818.7" cy="705.8" r="6.45"/><circle cx="1825.9" cy="724.7" r="6.45"/><circle cx="1827.9" cy="769.2" r="6.45"/><circle cx="1835.4" cy="362.8" r="6.45"/><circle cx="1839.0" cy="332.2" r="6.45"/><circle cx="1851.8" cy="341.9" r="6.45"/><circle cx="1850.1" cy="346.9" r="6.45"/><circle cx="1844.5" cy="392.3" r="6.45"/><circle cx="1847.0" cy="399.8" r="6.45"/><circle cx="1837.0" cy="405.3" r="6.45"/><circle cx="1840.6" cy="446.7" r="6.45"/><circle cx="1842.6" cy="264.9" r="6.45"/><circle cx="1848.2" cy="213.5" r="6.45"/>
</g>
<rect x="226.0" y="201.0" width="1658.0" height="638.0" fill="none" stroke="#000" stroke-width="5.8"/>
<g class="b a" text-anchor="middle">
<text class="" transform="translate(258.0 905.5) scale(1 1.06)">0</text>
<text class="" transform="translate(391.0 905.5) scale(1 1.06)">6</text>
<text class="" transform="translate(524.0 905.5) scale(1 1.06)">12</text>
<text class="" transform="translate(656.9 905.5) scale(1 1.06)">18</text>
<text class="" transform="translate(789.9 905.5) scale(1 1.06)">24</text>
<text class="" transform="translate(922.9 905.5) scale(1 1.06)">30</text>
<text class="" transform="translate(1055.9 905.5) scale(1 1.06)">36</text>
<text class="" transform="translate(1188.8 905.5) scale(1 1.06)">42</text>
<text class="" transform="translate(1321.8 905.5) scale(1 1.06)">48</text>
<text class="" transform="translate(1454.8 905.5) scale(1 1.06)">54</text>
<text class="" transform="translate(1587.8 905.5) scale(1 1.06)">60</text>
<text class="" transform="translate(1720.8 905.5) scale(1 1.06)">66</text>
<text class="" transform="translate(1853.7 905.5) scale(1 1.06)">72</text>
</g>
<g class="b a" text-anchor="end">
<text class="" transform="translate(191.0 310.5) scale(1 1.06)">0</text>
<text class="" transform="translate(191.0 421.5) scale(1 1.06)"><tspan dy="3.7">−</tspan><tspan dy="-3.7">3</tspan></text>
<text class="" transform="translate(191.0 532.5) scale(1 1.06)"><tspan dy="3.7">−</tspan><tspan dy="-3.7">6</tspan></text>
<text class="" transform="translate(191.0 643.5) scale(1 1.06)"><tspan dy="3.7">−</tspan><tspan dy="-3.7">9</tspan></text>
<text class="" transform="translate(191.0 754.5) scale(1 1.06)"><tspan dy="3.7">−</tspan><tspan dy="-3.7">12</tspan></text>
</g>
<text class="l" transform="translate(90.2 520.0) rotate(-90) scale(1 1.045)">East (mm)</text>
<path d="M258.0 1017.0v-19.0M258.0 1655.0v19.0M302.3 1017.0v-10.0M302.3 1655.0v10.0M346.7 1017.0v-10.0M346.7 1655.0v10.0M391.0 1017.0v-19.0M391.0 1655.0v19.0M435.3 1017.0v-10.0M435.3 1655.0v10.0M479.6 1017.0v-10.0M479.6 1655.0v10.0M524.0 1017.0v-19.0M524.0 1655.0v19.0M568.3 1017.0v-10.0M568.3 1655.0v10.0M612.6 1017.0v-10.0M612.6 1655.0v10.0M656.9 1017.0v-19.0M656.9 1655.0v19.0M701.3 1017.0v-10.0M701.3 1655.0v10.0M745.6 1017.0v-10.0M745.6 1655.0v10.0M789.9 1017.0v-19.0M789.9 1655.0v19.0M834.2 1017.0v-10.0M834.2 1655.0v10.0M878.6 1017.0v-10.0M878.6 1655.0v10.0M922.9 1017.0v-19.0M922.9 1655.0v19.0M967.2 1017.0v-10.0M967.2 1655.0v10.0M1011.5 1017.0v-10.0M1011.5 1655.0v10.0M1055.9 1017.0v-19.0M1055.9 1655.0v19.0M1100.2 1017.0v-10.0M1100.2 1655.0v10.0M1144.5 1017.0v-10.0M1144.5 1655.0v10.0M1188.8 1017.0v-19.0M1188.8 1655.0v19.0M1233.2 1017.0v-10.0M1233.2 1655.0v10.0M1277.5 1017.0v-10.0M1277.5 1655.0v10.0M1321.8 1017.0v-19.0M1321.8 1655.0v19.0M1366.2 1017.0v-10.0M1366.2 1655.0v10.0M1410.5 1017.0v-10.0M1410.5 1655.0v10.0M1454.8 1017.0v-19.0M1454.8 1655.0v19.0M1499.1 1017.0v-10.0M1499.1 1655.0v10.0M1543.5 1017.0v-10.0M1543.5 1655.0v10.0M1587.8 1017.0v-19.0M1587.8 1655.0v19.0M1632.1 1017.0v-10.0M1632.1 1655.0v10.0M1676.4 1017.0v-10.0M1676.4 1655.0v10.0M1720.8 1017.0v-19.0M1720.8 1655.0v19.0M1765.1 1017.0v-10.0M1765.1 1655.0v10.0M1809.4 1017.0v-10.0M1809.4 1655.0v10.0M1853.7 1017.0v-19.0M1853.7 1655.0v19.0M226.0 1022.4h-19.0M1884.0 1022.4h19.0M226.0 1156.1h-19.0M1884.0 1156.1h19.0M226.0 1289.7h-19.0M1884.0 1289.7h19.0M226.0 1423.3h-19.0M1884.0 1423.3h19.0M226.0 1557.0h-19.0M1884.0 1557.0h19.0" fill="none" stroke="#000" stroke-width="2.1"/>
<g class="d" fill="#00f">
<circle cx="257.7" cy="1289.4" r="6.45"/><circle cx="261.3" cy="1302.8" r="6.45"/><circle cx="268.8" cy="1204.4" r="6.45"/><circle cx="263.2" cy="1238.3" r="6.45"/><circle cx="274.4" cy="1250.2" r="6.45"/><circle cx="266.8" cy="1262.5" r="6.45"/><circle cx="279.9" cy="1286.1" r="6.45"/><circle cx="272.4" cy="1311.7" r="6.45"/><circle cx="278.0" cy="1313.6" r="6.45"/><circle cx="276.0" cy="1319.2" r="6.45"/><circle cx="281.6" cy="1323.9" r="6.45"/><circle cx="283.5" cy="1320.6" r="6.45"/><circle cx="264.9" cy="1330.0" r="6.45"/><circle cx="292.7" cy="1316.4" r="6.45"/><circle cx="294.6" cy="1325.6" r="6.45"/><circle cx="270.5" cy="1359.5" r="6.45"/><circle cx="285.5" cy="1367.0" r="6.45"/><circle cx="287.1" cy="1376.7" r="6.45"/><circle cx="296.3" cy="1386.2" r="6.45"/><circle cx="289.1" cy="1390.1" r="6.45"/><circle cx="291.0" cy="1258.3" r="6.45"/><circle cx="303.8" cy="1250.2" r="6.45"/><circle cx="300.2" cy="1276.1" r="6.45"/><circle cx="320.5" cy="1271.9" r="6.45"/><circle cx="313.0" cy="1293.1" r="6.45"/><circle cx="324.4" cy="1291.4" r="6.45"/><circle cx="327.7" cy="1283.3" r="6.45"/><circle cx="335.2" cy="1286.7" r="6.45"/><circle cx="342.7" cy="1282.2" r="6.45"/><circle cx="316.9" cy="1319.5" r="6.45"/><circle cx="311.3" cy="1347.0" r="6.45"/><circle cx="326.1" cy="1349.2" r="6.45"/><circle cx="318.8" cy="1353.4" r="6.45"/><circle cx="309.4" cy="1358.4" r="6.45"/><circle cx="305.8" cy="1365.6" r="6.45"/><circle cx="314.9" cy="1371.4" r="6.45"/><circle cx="307.7" cy="1396.2" r="6.45"/><circle cx="322.4" cy="1412.3" r="6.45"/><circle cx="298.3" cy="1420.6" r="6.45"/><circle cx="301.9" cy="1442.9" r="6.45"/><circle cx="330.0" cy="1207.4" r="6.45"/><circle cx="337.2" cy="1230.2" r="6.45"/><circle cx="331.6" cy="1236.6" r="6.45"/><circle cx="333.6" cy="1317.8" r="6.45"/><circle cx="340.8" cy="1313.6" r="6.45"/><circle cx="346.4" cy="1309.5" r="6.45"/><circle cx="348.3" cy="1304.4" r="6.45"/><circle cx="350.2" cy="1342.0" r="6.45"/><circle cx="344.7" cy="1350.3" r="6.45"/><circle cx="338.3" cy="1351.2" r="6.45"/><circle cx="351.9" cy="1373.9" r="6.45"/><circle cx="353.9" cy="1393.1" r="6.45"/><circle cx="359.1" cy="1402.6" r="6.45"/><circle cx="355.5" cy="1443.7" r="6.45"/><circle cx="357.5" cy="1249.7" r="6.45"/><circle cx="363.0" cy="1242.2" r="6.45"/><circle cx="366.6" cy="1242.7" r="6.45"/><circle cx="379.7" cy="1243.3" r="6.45"/><circle cx="381.7" cy="1245.0" r="6.45"/><circle cx="377.8" cy="1247.7" r="6.45"/><circle cx="368.6" cy="1164.1" r="6.45"/><circle cx="376.1" cy="1115.1" r="6.45"/><circle cx="374.2" cy="1273.9" r="6.45"/><circle cx="370.3" cy="1290.5" r="6.45"/><circle cx="364.7" cy="1296.7" r="6.45"/><circle cx="361.1" cy="1311.7" r="6.45"/><circle cx="372.2" cy="1343.4" r="6.45"/><circle cx="388.9" cy="1259.4" r="6.45"/><circle cx="385.3" cy="1286.1" r="6.45"/><circle cx="383.3" cy="1310.8" r="6.45"/><circle cx="396.4" cy="1324.7" r="6.45"/><circle cx="386.9" cy="1335.9" r="6.45"/><circle cx="403.6" cy="1347.0" r="6.45"/><circle cx="412.8" cy="1347.0" r="6.45"/><circle cx="411.1" cy="1354.5" r="6.45"/><circle cx="392.5" cy="1358.1" r="6.45"/><circle cx="394.4" cy="1367.0" r="6.45"/><circle cx="390.6" cy="1397.3" r="6.45"/><circle cx="398.1" cy="1404.8" r="6.45"/><circle cx="400.0" cy="1409.5" r="6.45"/><circle cx="407.2" cy="1411.2" r="6.45"/><circle cx="405.6" cy="1419.8" r="6.45"/><circle cx="409.2" cy="1391.7" r="6.45"/><circle cx="402.0" cy="1440.4" r="6.45"/><circle cx="416.4" cy="1258.0" r="6.45"/><circle cx="429.5" cy="1249.1" r="6.45"/><circle cx="422.0" cy="1192.7" r="6.45"/><circle cx="420.3" cy="1298.1" r="6.45"/><circle cx="418.4" cy="1310.8" r="6.45"/><circle cx="414.5" cy="1315.0" r="6.45"/><circle cx="423.9" cy="1318.6" r="6.45"/><circle cx="425.9" cy="1350.6" r="6.45"/><circle cx="431.4" cy="1380.3" r="6.45"/><circle cx="438.9" cy="1376.7" r="6.45"/><circle cx="436.7" cy="1392.6" r="6.45"/><circle cx="442.3" cy="1408.4" r="6.45"/><circle cx="427.5" cy="1415.1" r="6.45"/><circle cx="435.0" cy="1422.0" r="6.45"/><circle cx="433.1" cy="1476.0" r="6.45"/><circle cx="440.6" cy="1172.4" r="6.45"/><circle cx="447.8" cy="1163.2" r="6.45"/><circle cx="449.8" cy="1149.1" r="6.45"/><circle cx="451.7" cy="1207.4" r="6.45"/><circle cx="446.2" cy="1236.3" r="6.45"/><circle cx="444.2" cy="1276.1" r="6.45"/><circle cx="453.7" cy="1291.9" r="6.45"/><circle cx="468.4" cy="1259.4" r="6.45"/><circle cx="464.8" cy="1266.9" r="6.45"/><circle cx="466.4" cy="1307.5" r="6.45"/><circle cx="474.0" cy="1307.2" r="6.45"/><circle cx="457.3" cy="1320.0" r="6.45"/><circle cx="470.3" cy="1329.7" r="6.45"/><circle cx="460.9" cy="1340.0" r="6.45"/><circle cx="455.3" cy="1344.2" r="6.45"/><circle cx="459.2" cy="1348.4" r="6.45"/><circle cx="462.8" cy="1354.8" r="6.45"/><circle cx="479.5" cy="1369.5" r="6.45"/><circle cx="486.7" cy="1391.2" r="6.45"/><circle cx="492.3" cy="1403.4" r="6.45"/><circle cx="477.6" cy="1406.7" r="6.45"/><circle cx="488.7" cy="1412.9" r="6.45"/><circle cx="485.1" cy="1425.7" r="6.45"/><circle cx="472.0" cy="1444.3" r="6.45"/><circle cx="481.2" cy="1450.7" r="6.45"/><circle cx="483.1" cy="1472.9" r="6.45"/><circle cx="475.6" cy="1498.5" r="6.45"/><circle cx="490.4" cy="1511.6" r="6.45"/><circle cx="494.2" cy="1548.5" r="6.45"/><circle cx="497.9" cy="1608.8" r="6.45"/><circle cx="496.2" cy="1642.2" r="6.45"/><circle cx="499.5" cy="1286.1" r="6.45"/><circle cx="505.4" cy="1306.7" r="6.45"/><circle cx="503.4" cy="1317.2" r="6.45"/><circle cx="501.5" cy="1343.4" r="6.45"/><circle cx="509.0" cy="1407.0" r="6.45"/><circle cx="518.2" cy="1375.6" r="6.45"/><circle cx="521.8" cy="1363.7" r="6.45"/><circle cx="516.2" cy="1433.2" r="6.45"/><circle cx="510.6" cy="1443.4" r="6.45"/><circle cx="514.5" cy="1451.2" r="6.45"/><circle cx="512.6" cy="1484.6" r="6.45"/><circle cx="507.0" cy="1492.4" r="6.45"/><circle cx="520.1" cy="1310.8" r="6.45"/><circle cx="529.2" cy="1244.1" r="6.45"/><circle cx="540.4" cy="1270.0" r="6.45"/><circle cx="545.9" cy="1288.6" r="6.45"/><circle cx="525.3" cy="1305.6" r="6.45"/><circle cx="530.9" cy="1319.2" r="6.45"/><circle cx="526.7" cy="1326.1" r="6.45"/><circle cx="536.5" cy="1326.7" r="6.45"/><circle cx="538.4" cy="1340.9" r="6.45"/><circle cx="547.6" cy="1336.7" r="6.45"/><circle cx="544.0" cy="1358.1" r="6.45"/><circle cx="535.1" cy="1363.7" r="6.45"/><circle cx="551.5" cy="1371.4" r="6.45"/><circle cx="549.5" cy="1382.6" r="6.45"/><circle cx="532.8" cy="1395.6" r="6.45"/><circle cx="564.3" cy="1380.6" r="6.45"/><circle cx="557.0" cy="1398.4" r="6.45"/><circle cx="558.7" cy="1402.6" r="6.45"/><circle cx="566.2" cy="1412.9" r="6.45"/><circle cx="542.0" cy="1417.9" r="6.45"/><circle cx="553.1" cy="1419.5" r="6.45"/><circle cx="524.0" cy="1447.9" r="6.45"/><circle cx="569.8" cy="1440.7" r="6.45"/><circle cx="555.1" cy="1479.0" r="6.45"/><circle cx="567.9" cy="1511.3" r="6.45"/><circle cx="571.8" cy="1528.0" r="6.45"/><circle cx="562.3" cy="1264.1" r="6.45"/><circle cx="560.6" cy="1273.9" r="6.45"/><circle cx="579.3" cy="1181.0" r="6.45"/><circle cx="586.5" cy="1233.0" r="6.45"/><circle cx="590.4" cy="1256.1" r="6.45"/><circle cx="584.8" cy="1272.2" r="6.45"/><circle cx="588.4" cy="1276.1" r="6.45"/><circle cx="594.0" cy="1276.1" r="6.45"/><circle cx="597.6" cy="1285.8" r="6.45"/><circle cx="595.4" cy="1290.0" r="6.45"/><circle cx="580.9" cy="1297.2" r="6.45"/><circle cx="599.6" cy="1305.3" r="6.45"/><circle cx="592.1" cy="1312.5" r="6.45"/><circle cx="573.7" cy="1321.7" r="6.45"/><circle cx="575.4" cy="1347.0" r="6.45"/><circle cx="582.9" cy="1354.8" r="6.45"/><circle cx="577.3" cy="1392.0" r="6.45"/><circle cx="608.7" cy="1270.5" r="6.45"/><circle cx="612.4" cy="1288.6" r="6.45"/><circle cx="617.9" cy="1287.2" r="6.45"/><circle cx="625.1" cy="1275.5" r="6.45"/><circle cx="621.5" cy="1303.3" r="6.45"/><circle cx="627.1" cy="1306.7" r="6.45"/><circle cx="604.8" cy="1336.4" r="6.45"/><circle cx="601.2" cy="1342.8" r="6.45"/><circle cx="616.2" cy="1343.4" r="6.45"/><circle cx="603.2" cy="1365.6" r="6.45"/><circle cx="610.4" cy="1375.6" r="6.45"/><circle cx="619.9" cy="1370.6" r="6.45"/><circle cx="623.5" cy="1380.3" r="6.45"/><circle cx="606.8" cy="1422.9" r="6.45"/><circle cx="614.3" cy="1193.3" r="6.45"/><circle cx="645.7" cy="1189.1" r="6.45"/><circle cx="629.0" cy="1400.4" r="6.45"/><circle cx="640.2" cy="1399.2" r="6.45"/><circle cx="634.6" cy="1406.7" r="6.45"/><circle cx="647.4" cy="1413.1" r="6.45"/><circle cx="638.2" cy="1422.9" r="6.45"/><circle cx="630.7" cy="1430.4" r="6.45"/><circle cx="636.3" cy="1432.6" r="6.45"/><circle cx="632.6" cy="1511.0" r="6.45"/><circle cx="641.8" cy="1323.4" r="6.45"/><circle cx="643.8" cy="1340.9" r="6.45"/><circle cx="652.9" cy="1344.2" r="6.45"/><circle cx="654.9" cy="1335.9" r="6.45"/><circle cx="649.3" cy="1367.8" r="6.45"/><circle cx="651.3" cy="1370.6" r="6.45"/><circle cx="658.5" cy="1242.7" r="6.45"/><circle cx="673.2" cy="1245.5" r="6.45"/><circle cx="656.6" cy="1293.6" r="6.45"/><circle cx="669.6" cy="1281.1" r="6.45"/><circle cx="680.7" cy="1281.4" r="6.45"/><circle cx="671.6" cy="1303.3" r="6.45"/><circle cx="666.0" cy="1313.1" r="6.45"/><circle cx="660.4" cy="1320.0" r="6.45"/><circle cx="662.4" cy="1330.3" r="6.45"/><circle cx="675.2" cy="1340.9" r="6.45"/><circle cx="668.0" cy="1363.7" r="6.45"/><circle cx="678.8" cy="1373.4" r="6.45"/><circle cx="677.1" cy="1391.2" r="6.45"/><circle cx="664.1" cy="1399.0" r="6.45"/><circle cx="688.0" cy="1317.0" r="6.45"/><circle cx="689.9" cy="1330.3" r="6.45"/><circle cx="686.3" cy="1335.9" r="6.45"/><circle cx="691.9" cy="1342.0" r="6.45"/><circle cx="684.4" cy="1342.8" r="6.45"/><circle cx="682.4" cy="1356.2" r="6.45"/><circle cx="695.5" cy="1351.7" r="6.45"/><circle cx="699.1" cy="1361.7" r="6.45"/><circle cx="710.2" cy="1362.3" r="6.45"/><circle cx="702.7" cy="1431.2" r="6.45"/><circle cx="697.4" cy="1454.0" r="6.45"/><circle cx="701.0" cy="1490.1" r="6.45"/><circle cx="708.3" cy="1290.8" r="6.45"/><circle cx="706.6" cy="1303.3" r="6.45"/><circle cx="704.6" cy="1327.0" r="6.45"/><circle cx="712.2" cy="1264.4" r="6.45"/><circle cx="719.7" cy="1260.8" r="6.45"/><circle cx="723.3" cy="1253.0" r="6.45"/><circle cx="725.2" cy="1265.0" r="6.45"/><circle cx="726.9" cy="1278.9" r="6.45"/><circle cx="730.8" cy="1319.2" r="6.45"/><circle cx="715.8" cy="1333.1" r="6.45"/><circle cx="719.7" cy="1337.3" r="6.45"/><circle cx="728.8" cy="1333.9" r="6.45"/><circle cx="740.0" cy="1348.9" r="6.45"/><circle cx="743.6" cy="1265.5" r="6.45"/><circle cx="751.1" cy="1267.2" r="6.45"/><circle cx="741.6" cy="1295.0" r="6.45"/><circle cx="752.7" cy="1297.2" r="6.45"/><circle cx="749.1" cy="1303.3" r="6.45"/><circle cx="732.4" cy="1378.4" r="6.45"/><circle cx="734.4" cy="1385.3" r="6.45"/><circle cx="745.5" cy="1373.9" r="6.45"/><circle cx="738.0" cy="1400.6" r="6.45"/><circle cx="754.7" cy="1390.9" r="6.45"/><circle cx="747.2" cy="1413.1" r="6.45"/><circle cx="736.3" cy="1486.5" r="6.45"/><circle cx="756.4" cy="1503.2" r="6.45"/><circle cx="762.2" cy="1370.6" r="6.45"/><circle cx="773.3" cy="1372.6" r="6.45"/><circle cx="765.5" cy="1380.3" r="6.45"/><circle cx="771.4" cy="1381.2" r="6.45"/><circle cx="776.6" cy="1393.7" r="6.45"/><circle cx="769.4" cy="1399.0" r="6.45"/><circle cx="763.9" cy="1424.3" r="6.45"/><circle cx="775.0" cy="1431.2" r="6.45"/><circle cx="760.2" cy="1441.5" r="6.45"/><circle cx="767.8" cy="1441.5" r="6.45"/><circle cx="758.3" cy="1449.0" r="6.45"/><circle cx="778.6" cy="1355.9" r="6.45"/><circle cx="786.1" cy="1344.8" r="6.45"/><circle cx="787.8" cy="1276.1" r="6.45"/><circle cx="782.2" cy="1281.1" r="6.45"/><circle cx="780.5" cy="1297.8" r="6.45"/><circle cx="784.2" cy="1296.1" r="6.45"/><circle cx="804.4" cy="1249.7" r="6.45"/><circle cx="808.0" cy="1251.1" r="6.45"/><circle cx="796.9" cy="1293.3" r="6.45"/><circle cx="795.2" cy="1313.6" r="6.45"/><circle cx="792.7" cy="1319.2" r="6.45"/><circle cx="806.4" cy="1322.8" r="6.45"/><circle cx="810.0" cy="1335.0" r="6.45"/><circle cx="802.5" cy="1339.5" r="6.45"/><circle cx="800.8" cy="1356.2" r="6.45"/><circle cx="811.9" cy="1359.5" r="6.45"/><circle cx="815.5" cy="1365.6" r="6.45"/><circle cx="790.0" cy="1373.1" r="6.45"/><circle cx="791.3" cy="1385.9" r="6.45"/><circle cx="798.8" cy="1381.7" r="6.45"/><circle cx="813.6" cy="1392.0" r="6.45"/><circle cx="817.5" cy="1404.5" r="6.45"/><circle cx="824.7" cy="1218.3" r="6.45"/><circle cx="835.8" cy="1211.3" r="6.45"/><circle cx="830.3" cy="1245.0" r="6.45"/><circle cx="823.0" cy="1259.1" r="6.45"/><circle cx="832.2" cy="1287.2" r="6.45"/><circle cx="821.1" cy="1303.3" r="6.45"/><circle cx="833.9" cy="1301.9" r="6.45"/><circle cx="819.1" cy="1315.0" r="6.45"/><circle cx="826.6" cy="1316.4" r="6.45"/><circle cx="841.4" cy="1322.8" r="6.45"/><circle cx="837.8" cy="1365.1" r="6.45"/><circle cx="828.3" cy="1386.2" r="6.45"/><circle cx="839.7" cy="1408.1" r="6.45"/><circle cx="846.9" cy="1256.9" r="6.45"/><circle cx="843.3" cy="1293.1" r="6.45"/><circle cx="854.4" cy="1294.7" r="6.45"/><circle cx="850.8" cy="1303.9" r="6.45"/><circle cx="845.3" cy="1307.2" r="6.45"/><circle cx="862.0" cy="1256.1" r="6.45"/><circle cx="870.8" cy="1261.4" r="6.45"/><circle cx="878.4" cy="1259.1" r="6.45"/><circle cx="865.6" cy="1287.2" r="6.45"/><circle cx="874.7" cy="1290.0" r="6.45"/><circle cx="876.7" cy="1285.8" r="6.45"/><circle cx="863.6" cy="1313.6" r="6.45"/><circle cx="858.1" cy="1322.8" r="6.45"/><circle cx="872.8" cy="1326.7" r="6.45"/><circle cx="880.3" cy="1317.0" r="6.45"/><circle cx="859.7" cy="1343.4" r="6.45"/><circle cx="869.2" cy="1343.4" r="6.45"/><circle cx="855.8" cy="1348.9" r="6.45"/><circle cx="852.5" cy="1378.4" r="6.45"/><circle cx="891.1" cy="1340.0" r="6.45"/><circle cx="883.9" cy="1351.7" r="6.45"/><circle cx="885.9" cy="1358.9" r="6.45"/><circle cx="889.5" cy="1362.3" r="6.45"/><circle cx="887.5" cy="1376.2" r="6.45"/><circle cx="882.2" cy="1418.4" r="6.45"/><circle cx="900.6" cy="1181.6" r="6.45"/><circle cx="906.2" cy="1192.1" r="6.45"/><circle cx="896.7" cy="1229.9" r="6.45"/><circle cx="898.6" cy="1249.7" r="6.45"/><circle cx="895.0" cy="1273.9" r="6.45"/><circle cx="893.1" cy="1291.9" r="6.45"/><circle cx="911.7" cy="1258.0" r="6.45"/><circle cx="909.8" cy="1261.6" r="6.45"/><circle cx="902.3" cy="1312.8" r="6.45"/><circle cx="913.4" cy="1305.3" r="6.45"/><circle cx="907.8" cy="1365.1" r="6.45"/><circle cx="904.2" cy="1029.5" r="6.45"/><circle cx="918.9" cy="1290.8" r="6.45"/><circle cx="930.1" cy="1288.0" r="6.45"/><circle cx="915.3" cy="1317.8" r="6.45"/><circle cx="917.3" cy="1322.0" r="6.45"/><circle cx="926.4" cy="1332.2" r="6.45"/><circle cx="941.2" cy="1333.9" r="6.45"/><circle cx="937.6" cy="1342.3" r="6.45"/><circle cx="932.0" cy="1347.0" r="6.45"/><circle cx="920.9" cy="1356.7" r="6.45"/><circle cx="924.5" cy="1365.1" r="6.45"/><circle cx="934.0" cy="1365.6" r="6.45"/><circle cx="922.6" cy="1377.0" r="6.45"/><circle cx="928.4" cy="1382.6" r="6.45"/><circle cx="937.6" cy="1377.0" r="6.45"/><circle cx="935.6" cy="1396.5" r="6.45"/><circle cx="943.1" cy="1399.0" r="6.45"/><circle cx="944.8" cy="1220.2" r="6.45"/><circle cx="952.3" cy="1205.2" r="6.45"/><circle cx="946.7" cy="1293.3" r="6.45"/><circle cx="950.4" cy="1291.4" r="6.45"/><circle cx="954.0" cy="1348.4" r="6.45"/><circle cx="948.4" cy="1361.7" r="6.45"/><circle cx="957.9" cy="1365.1" r="6.45"/><circle cx="963.4" cy="1383.1" r="6.45"/><circle cx="955.9" cy="1392.0" r="6.45"/><circle cx="959.5" cy="1395.1" r="6.45"/><circle cx="968.7" cy="1397.0" r="6.45"/><circle cx="978.2" cy="1404.5" r="6.45"/><circle cx="965.1" cy="1511.3" r="6.45"/><circle cx="974.5" cy="1145.7" r="6.45"/><circle cx="970.9" cy="1181.9" r="6.45"/><circle cx="967.0" cy="1229.4" r="6.45"/><circle cx="981.8" cy="1221.6" r="6.45"/><circle cx="983.7" cy="1255.0" r="6.45"/><circle cx="961.5" cy="1268.9" r="6.45"/><circle cx="972.6" cy="1268.9" r="6.45"/><circle cx="979.8" cy="1266.9" r="6.45"/><circle cx="991.2" cy="1265.5" r="6.45"/><circle cx="996.8" cy="1267.8" r="6.45"/><circle cx="1000.4" cy="1271.9" r="6.45"/><circle cx="1004.0" cy="1278.0" r="6.45"/><circle cx="1002.3" cy="1281.1" r="6.45"/><circle cx="976.2" cy="1300.0" r="6.45"/><circle cx="989.3" cy="1300.6" r="6.45"/><circle cx="1000.4" cy="1295.6" r="6.45"/><circle cx="992.9" cy="1311.4" r="6.45"/><circle cx="996.8" cy="1314.5" r="6.45"/><circle cx="987.3" cy="1351.2" r="6.45"/><circle cx="985.7" cy="1381.5" r="6.45"/><circle cx="1009.6" cy="1358.1" r="6.45"/><circle cx="1007.6" cy="1377.3" r="6.45"/><circle cx="1006.0" cy="1402.9" r="6.45"/><circle cx="1013.2" cy="1404.0" r="6.45"/><circle cx="1017.1" cy="1402.6" r="6.45"/><circle cx="1015.1" cy="1345.6" r="6.45"/><circle cx="1022.4" cy="1342.0" r="6.45"/><circle cx="1035.4" cy="1336.4" r="6.45"/><circle cx="1033.5" cy="1349.8" r="6.45"/><circle cx="1026.2" cy="1363.7" r="6.45"/><circle cx="1024.3" cy="1388.7" r="6.45"/><circle cx="1031.5" cy="1402.0" r="6.45"/><circle cx="1029.9" cy="1413.1" r="6.45"/><circle cx="1018.7" cy="1420.6" r="6.45"/><circle cx="1011.5" cy="1428.4" r="6.45"/><circle cx="1020.7" cy="1443.4" r="6.45"/><circle cx="1039.0" cy="1437.3" r="6.45"/><circle cx="1044.6" cy="1436.8" r="6.45"/><circle cx="1042.6" cy="1441.5" r="6.45"/><circle cx="1041.0" cy="1465.7" r="6.45"/><circle cx="1037.4" cy="1469.3" r="6.45"/><circle cx="1046.5" cy="1359.8" r="6.45"/><circle cx="1052.1" cy="1371.7" r="6.45"/><circle cx="1048.2" cy="1389.2" r="6.45"/><circle cx="1050.2" cy="1325.6" r="6.45"/><circle cx="1053.8" cy="1234.1" r="6.45"/><circle cx="1055.7" cy="1177.4" r="6.45"/><circle cx="1070.4" cy="1224.7" r="6.45"/><circle cx="1074.0" cy="1222.7" r="6.45"/><circle cx="1068.5" cy="1238.6" r="6.45"/><circle cx="1057.3" cy="1304.4" r="6.45"/><circle cx="1066.8" cy="1301.9" r="6.45"/><circle cx="1074.0" cy="1296.9" r="6.45"/><circle cx="1077.9" cy="1310.8" r="6.45"/><circle cx="1076.0" cy="1315.6" r="6.45"/><circle cx="1064.8" cy="1317.8" r="6.45"/><circle cx="1059.3" cy="1328.1" r="6.45"/><circle cx="1079.6" cy="1357.5" r="6.45"/><circle cx="1062.9" cy="1393.7" r="6.45"/><circle cx="1061.2" cy="1418.4" r="6.45"/><circle cx="1092.6" cy="1193.3" r="6.45"/><circle cx="1090.7" cy="1202.4" r="6.45"/><circle cx="1083.5" cy="1257.2" r="6.45"/><circle cx="1089.0" cy="1256.1" r="6.45"/><circle cx="1081.5" cy="1272.8" r="6.45"/><circle cx="1085.1" cy="1286.4" r="6.45"/><circle cx="1094.3" cy="1322.8" r="6.45"/><circle cx="1101.8" cy="1374.8" r="6.45"/><circle cx="1098.2" cy="1398.1" r="6.45"/><circle cx="1103.8" cy="1436.8" r="6.45"/><circle cx="1096.3" cy="1475.4" r="6.45"/><circle cx="1099.9" cy="1242.7" r="6.45"/><circle cx="1107.4" cy="1250.2" r="6.45"/><circle cx="1116.8" cy="1258.0" r="6.45"/><circle cx="1111.3" cy="1270.0" r="6.45"/><circle cx="1109.3" cy="1277.5" r="6.45"/><circle cx="1105.7" cy="1291.9" r="6.45"/><circle cx="1126.0" cy="1270.0" r="6.45"/><circle cx="1124.1" cy="1279.7" r="6.45"/><circle cx="1129.6" cy="1288.6" r="6.45"/><circle cx="1128.0" cy="1211.3" r="6.45"/><circle cx="1114.9" cy="1328.4" r="6.45"/><circle cx="1120.4" cy="1341.4" r="6.45"/><circle cx="1118.5" cy="1350.6" r="6.45"/><circle cx="1112.9" cy="1363.7" r="6.45"/><circle cx="1122.1" cy="1366.4" r="6.45"/><circle cx="1131.6" cy="1365.6" r="6.45"/><circle cx="1137.1" cy="1363.7" r="6.45"/><circle cx="1138.8" cy="1374.8" r="6.45"/><circle cx="1133.2" cy="1326.1" r="6.45"/><circle cx="1135.2" cy="1349.2" r="6.45"/><circle cx="1144.4" cy="1167.7" r="6.45"/><circle cx="1148.2" cy="1245.5" r="6.45"/><circle cx="1153.5" cy="1258.6" r="6.45"/><circle cx="1151.0" cy="1260.8" r="6.45"/><circle cx="1157.1" cy="1278.9" r="6.45"/><circle cx="1142.4" cy="1298.3" r="6.45"/><circle cx="1149.9" cy="1306.1" r="6.45"/><circle cx="1146.3" cy="1340.0" r="6.45"/><circle cx="1155.5" cy="1344.8" r="6.45"/><circle cx="1140.7" cy="1399.8" r="6.45"/><circle cx="1159.1" cy="1393.7" r="6.45"/><circle cx="1172.2" cy="1289.7" r="6.45"/><circle cx="1175.8" cy="1321.1" r="6.45"/><circle cx="1183.3" cy="1353.9" r="6.45"/><circle cx="1177.7" cy="1358.7" r="6.45"/><circle cx="1170.2" cy="1373.4" r="6.45"/><circle cx="1181.3" cy="1400.9" r="6.45"/><circle cx="1173.8" cy="1413.1" r="6.45"/><circle cx="1166.6" cy="1420.1" r="6.45"/><circle cx="1162.7" cy="1435.9" r="6.45"/><circle cx="1164.6" cy="1440.1" r="6.45"/><circle cx="1179.4" cy="1437.3" r="6.45"/><circle cx="1161.0" cy="1455.7" r="6.45"/><circle cx="1168.3" cy="1467.4" r="6.45"/><circle cx="1188.6" cy="1256.6" r="6.45"/><circle cx="1186.9" cy="1284.4" r="6.45"/><circle cx="1190.5" cy="1321.4" r="6.45"/><circle cx="1196.1" cy="1322.8" r="6.45"/><circle cx="1194.4" cy="1328.9" r="6.45"/><circle cx="1184.9" cy="1335.3" r="6.45"/><circle cx="1200.0" cy="1335.3" r="6.45"/><circle cx="1198.0" cy="1356.7" r="6.45"/><circle cx="1201.6" cy="1360.9" r="6.45"/><circle cx="1194.4" cy="1370.6" r="6.45"/><circle cx="1203.6" cy="1371.2" r="6.45"/><circle cx="1205.2" cy="1380.3" r="6.45"/><circle cx="1212.7" cy="1362.3" r="6.45"/><circle cx="1209.1" cy="1287.2" r="6.45"/><circle cx="1210.8" cy="1293.3" r="6.45"/><circle cx="1207.2" cy="1327.5" r="6.45"/><circle cx="1214.4" cy="1317.0" r="6.45"/><circle cx="1220.0" cy="1323.4" r="6.45"/><circle cx="1216.4" cy="1334.5" r="6.45"/><circle cx="1225.5" cy="1315.8" r="6.45"/><circle cx="1218.3" cy="1249.1" r="6.45"/><circle cx="1221.9" cy="1271.9" r="6.45"/><circle cx="1223.9" cy="1372.0" r="6.45"/><circle cx="1227.5" cy="1380.9" r="6.45"/><circle cx="1236.9" cy="1374.2" r="6.45"/><circle cx="1233.0" cy="1397.0" r="6.45"/><circle cx="1231.1" cy="1452.9" r="6.45"/><circle cx="1229.4" cy="1473.5" r="6.45"/><circle cx="1242.2" cy="1256.6" r="6.45"/><circle cx="1238.6" cy="1350.6" r="6.45"/><circle cx="1234.7" cy="1357.5" r="6.45"/><circle cx="1245.8" cy="1352.5" r="6.45"/><circle cx="1240.3" cy="1318.3" r="6.45"/><circle cx="1244.2" cy="1323.9" r="6.45"/><circle cx="1247.8" cy="1315.0" r="6.45"/><circle cx="1255.3" cy="1315.0" r="6.45"/><circle cx="1257.2" cy="1309.5" r="6.45"/><circle cx="1251.7" cy="1336.7" r="6.45"/><circle cx="1253.3" cy="1285.8" r="6.45"/><circle cx="1258.9" cy="1290.0" r="6.45"/><circle cx="1260.8" cy="1344.8" r="6.45"/><circle cx="1266.4" cy="1351.2" r="6.45"/><circle cx="1249.7" cy="1409.5" r="6.45"/><circle cx="1262.8" cy="1401.2" r="6.45"/><circle cx="1270.0" cy="1402.0" r="6.45"/><circle cx="1268.3" cy="1408.1" r="6.45"/><circle cx="1264.4" cy="1412.3" r="6.45"/><circle cx="1272.0" cy="1288.3" r="6.45"/><circle cx="1273.6" cy="1308.1" r="6.45"/><circle cx="1283.1" cy="1272.2" r="6.45"/><circle cx="1292.2" cy="1265.0" r="6.45"/><circle cx="1284.7" cy="1324.2" r="6.45"/><circle cx="1281.1" cy="1347.5" r="6.45"/><circle cx="1275.6" cy="1387.3" r="6.45"/><circle cx="1301.4" cy="1301.9" r="6.45"/><circle cx="1303.4" cy="1373.4" r="6.45"/><circle cx="1314.2" cy="1363.7" r="6.45"/><circle cx="1316.2" cy="1389.2" r="6.45"/><circle cx="1317.8" cy="1401.2" r="6.45"/><circle cx="1319.8" cy="1445.1" r="6.45"/><circle cx="1294.2" cy="1431.8" r="6.45"/><circle cx="1299.8" cy="1435.4" r="6.45"/><circle cx="1295.9" cy="1438.7" r="6.45"/><circle cx="1288.4" cy="1447.1" r="6.45"/><circle cx="1307.0" cy="1457.6" r="6.45"/><circle cx="1310.6" cy="1460.4" r="6.45"/><circle cx="1305.0" cy="1468.7" r="6.45"/><circle cx="1297.5" cy="1483.5" r="6.45"/><circle cx="1308.6" cy="1486.8" r="6.45"/><circle cx="1312.5" cy="1490.1" r="6.45"/><circle cx="1277.5" cy="1495.7" r="6.45"/><circle cx="1279.2" cy="1504.6" r="6.45"/><circle cx="1290.3" cy="1512.4" r="6.45"/><circle cx="1286.7" cy="1554.4" r="6.45"/><circle cx="1338.4" cy="1263.9" r="6.45"/><circle cx="1340.0" cy="1274.1" r="6.45"/><circle cx="1334.5" cy="1303.1" r="6.45"/><circle cx="1342.0" cy="1296.1" r="6.45"/><circle cx="1351.1" cy="1303.3" r="6.45"/><circle cx="1349.5" cy="1312.2" r="6.45"/><circle cx="1330.8" cy="1316.4" r="6.45"/><circle cx="1345.6" cy="1340.3" r="6.45"/><circle cx="1336.4" cy="1352.5" r="6.45"/><circle cx="1327.2" cy="1369.8" r="6.45"/><circle cx="1347.5" cy="1379.5" r="6.45"/><circle cx="1322.0" cy="1397.0" r="6.45"/><circle cx="1330.8" cy="1390.6" r="6.45"/><circle cx="1334.5" cy="1392.8" r="6.45"/><circle cx="1325.3" cy="1404.0" r="6.45"/><circle cx="1323.3" cy="1428.2" r="6.45"/><circle cx="1343.9" cy="1420.6" r="6.45"/><circle cx="1355.0" cy="1422.9" r="6.45"/><circle cx="1358.6" cy="1154.6" r="6.45"/><circle cx="1362.3" cy="1184.9" r="6.45"/><circle cx="1364.2" cy="1189.9" r="6.45"/><circle cx="1353.1" cy="1223.8" r="6.45"/><circle cx="1360.3" cy="1223.3" r="6.45"/><circle cx="1365.9" cy="1253.3" r="6.45"/><circle cx="1380.9" cy="1249.1" r="6.45"/><circle cx="1367.8" cy="1270.5" r="6.45"/><circle cx="1378.9" cy="1279.7" r="6.45"/><circle cx="1388.4" cy="1274.7" r="6.45"/><circle cx="1392.0" cy="1278.3" r="6.45"/><circle cx="1377.3" cy="1292.8" r="6.45"/><circle cx="1394.0" cy="1289.2" r="6.45"/><circle cx="1397.6" cy="1303.9" r="6.45"/><circle cx="1404.8" cy="1307.2" r="6.45"/><circle cx="1386.4" cy="1324.7" r="6.45"/><circle cx="1371.7" cy="1339.2" r="6.45"/><circle cx="1384.5" cy="1346.1" r="6.45"/><circle cx="1356.7" cy="1356.2" r="6.45"/><circle cx="1375.3" cy="1361.7" r="6.45"/><circle cx="1390.1" cy="1372.3" r="6.45"/><circle cx="1382.8" cy="1393.7" r="6.45"/><circle cx="1369.8" cy="1406.5" r="6.45"/><circle cx="1373.4" cy="1450.4" r="6.45"/><circle cx="1410.4" cy="1287.8" r="6.45"/><circle cx="1423.1" cy="1295.6" r="6.45"/><circle cx="1419.5" cy="1309.5" r="6.45"/><circle cx="1421.5" cy="1313.6" r="6.45"/><circle cx="1421.2" cy="1320.6" r="6.45"/><circle cx="1432.6" cy="1315.0" r="6.45"/><circle cx="1440.1" cy="1318.6" r="6.45"/><circle cx="1428.7" cy="1258.6" r="6.45"/><circle cx="1434.3" cy="1263.0" r="6.45"/><circle cx="1436.2" cy="1161.6" r="6.45"/><circle cx="1408.7" cy="1341.4" r="6.45"/><circle cx="1414.2" cy="1345.6" r="6.45"/><circle cx="1417.9" cy="1347.0" r="6.45"/><circle cx="1427.0" cy="1347.5" r="6.45"/><circle cx="1406.7" cy="1356.7" r="6.45"/><circle cx="1415.9" cy="1360.0" r="6.45"/><circle cx="1401.2" cy="1405.9" r="6.45"/><circle cx="1399.2" cy="1426.8" r="6.45"/><circle cx="1403.1" cy="1431.2" r="6.45"/><circle cx="1430.6" cy="1392.0" r="6.45"/><circle cx="1441.8" cy="1406.2" r="6.45"/><circle cx="1450.9" cy="1413.1" r="6.45"/><circle cx="1438.2" cy="1420.6" r="6.45"/><circle cx="1443.7" cy="1426.2" r="6.45"/><circle cx="1452.9" cy="1442.1" r="6.45"/><circle cx="1445.4" cy="1459.3" r="6.45"/><circle cx="1447.3" cy="1475.7" r="6.45"/><circle cx="1460.4" cy="1332.2" r="6.45"/><circle cx="1458.4" cy="1343.4" r="6.45"/><circle cx="1473.2" cy="1336.4" r="6.45"/><circle cx="1464.0" cy="1353.9" r="6.45"/><circle cx="1467.6" cy="1358.7" r="6.45"/><circle cx="1471.2" cy="1362.8" r="6.45"/><circle cx="1462.1" cy="1359.5" r="6.45"/><circle cx="1449.0" cy="1362.8" r="6.45"/><circle cx="1454.6" cy="1367.8" r="6.45"/><circle cx="1469.6" cy="1372.6" r="6.45"/><circle cx="1464.3" cy="1369.2" r="6.45"/><circle cx="1456.5" cy="1382.6" r="6.45"/><circle cx="1478.7" cy="1414.5" r="6.45"/><circle cx="1486.0" cy="1415.1" r="6.45"/><circle cx="1475.1" cy="1289.7" r="6.45"/><circle cx="1487.9" cy="1312.2" r="6.45"/><circle cx="1484.3" cy="1319.7" r="6.45"/><circle cx="1482.4" cy="1230.2" r="6.45"/><circle cx="1478.7" cy="1236.6" r="6.45"/><circle cx="1476.2" cy="1238.6" r="6.45"/><circle cx="1489.9" cy="1199.1" r="6.45"/><circle cx="1493.5" cy="1221.1" r="6.45"/><circle cx="1499.0" cy="1257.7" r="6.45"/><circle cx="1502.6" cy="1266.4" r="6.45"/><circle cx="1504.6" cy="1297.2" r="6.45"/><circle cx="1497.1" cy="1342.0" r="6.45"/><circle cx="1502.6" cy="1343.4" r="6.45"/><circle cx="1506.5" cy="1344.8" r="6.45"/><circle cx="1491.5" cy="1358.1" r="6.45"/><circle cx="1508.2" cy="1363.7" r="6.45"/><circle cx="1495.4" cy="1485.7" r="6.45"/><circle cx="1510.2" cy="1188.2" r="6.45"/><circle cx="1515.7" cy="1195.5" r="6.45"/><circle cx="1513.8" cy="1234.4" r="6.45"/><circle cx="1528.8" cy="1248.0" r="6.45"/><circle cx="1524.9" cy="1297.2" r="6.45"/><circle cx="1532.4" cy="1307.5" r="6.45"/><circle cx="1539.6" cy="1298.9" r="6.45"/><circle cx="1511.8" cy="1326.1" r="6.45"/><circle cx="1521.3" cy="1354.8" r="6.45"/><circle cx="1530.4" cy="1335.3" r="6.45"/><circle cx="1536.0" cy="1335.9" r="6.45"/><circle cx="1534.3" cy="1343.4" r="6.45"/><circle cx="1517.7" cy="1381.7" r="6.45"/><circle cx="1526.8" cy="1387.8" r="6.45"/><circle cx="1523.2" cy="1399.5" r="6.45"/><circle cx="1519.3" cy="1451.8" r="6.45"/><circle cx="1538.0" cy="1459.3" r="6.45"/><circle cx="1550.7" cy="1266.1" r="6.45"/><circle cx="1560.2" cy="1301.1" r="6.45"/><circle cx="1556.3" cy="1307.2" r="6.45"/><circle cx="1552.7" cy="1313.1" r="6.45"/><circle cx="1543.5" cy="1323.9" r="6.45"/><circle cx="1545.2" cy="1337.8" r="6.45"/><circle cx="1549.1" cy="1343.4" r="6.45"/><circle cx="1554.4" cy="1358.9" r="6.45"/><circle cx="1558.2" cy="1363.7" r="6.45"/><circle cx="1565.8" cy="1360.0" r="6.45"/><circle cx="1561.9" cy="1372.0" r="6.45"/><circle cx="1547.1" cy="1384.0" r="6.45"/><circle cx="1541.6" cy="1398.1" r="6.45"/><circle cx="1569.4" cy="1379.5" r="6.45"/><circle cx="1574.6" cy="1373.4" r="6.45"/><circle cx="1578.5" cy="1381.7" r="6.45"/><circle cx="1580.2" cy="1387.8" r="6.45"/><circle cx="1585.8" cy="1421.2" r="6.45"/><circle cx="1582.2" cy="1429.0" r="6.45"/><circle cx="1565.8" cy="1434.0" r="6.45"/><circle cx="1573.0" cy="1435.9" r="6.45"/><circle cx="1563.5" cy="1452.1" r="6.45"/><circle cx="1576.6" cy="1463.7" r="6.45"/><circle cx="1571.0" cy="1486.0" r="6.45"/><circle cx="1594.9" cy="1172.4" r="6.45"/><circle cx="1593.2" cy="1184.4" r="6.45"/><circle cx="1590.7" cy="1216.9" r="6.45"/><circle cx="1598.8" cy="1219.1" r="6.45"/><circle cx="1600.5" cy="1272.5" r="6.45"/><circle cx="1596.8" cy="1290.5" r="6.45"/><circle cx="1589.3" cy="1305.3" r="6.45"/><circle cx="1613.5" cy="1332.2" r="6.45"/><circle cx="1606.0" cy="1335.9" r="6.45"/><circle cx="1603.8" cy="1347.5" r="6.45"/><circle cx="1602.4" cy="1378.1" r="6.45"/><circle cx="1587.7" cy="1405.1" r="6.45"/><circle cx="1608.0" cy="1400.6" r="6.45"/><circle cx="1609.9" cy="1427.9" r="6.45"/><circle cx="1611.6" cy="1447.6" r="6.45"/><circle cx="1615.5" cy="1310.8" r="6.45"/><circle cx="1621.0" cy="1302.5" r="6.45"/><circle cx="1626.3" cy="1287.2" r="6.45"/><circle cx="1624.6" cy="1358.9" r="6.45"/><circle cx="1619.1" cy="1374.2" r="6.45"/><circle cx="1617.1" cy="1381.7" r="6.45"/><circle cx="1630.2" cy="1378.1" r="6.45"/><circle cx="1622.7" cy="1412.3" r="6.45"/><circle cx="1628.3" cy="1419.8" r="6.45"/><circle cx="1637.7" cy="1414.8" r="6.45"/><circle cx="1631.9" cy="1471.5" r="6.45"/><circle cx="1635.8" cy="1512.9" r="6.45"/><circle cx="1633.8" cy="1349.2" r="6.45"/><circle cx="1643.3" cy="1351.7" r="6.45"/><circle cx="1641.3" cy="1356.7" r="6.45"/><circle cx="1639.4" cy="1388.7" r="6.45"/><circle cx="1650.5" cy="1377.0" r="6.45"/><circle cx="1644.9" cy="1260.8" r="6.45"/><circle cx="1646.9" cy="1277.5" r="6.45"/><circle cx="1658.0" cy="1254.7" r="6.45"/><circle cx="1656.1" cy="1262.2" r="6.45"/><circle cx="1660.0" cy="1233.6" r="6.45"/><circle cx="1667.2" cy="1283.6" r="6.45"/><circle cx="1663.6" cy="1293.3" r="6.45"/><circle cx="1652.4" cy="1297.8" r="6.45"/><circle cx="1648.8" cy="1310.0" r="6.45"/><circle cx="1656.1" cy="1303.3" r="6.45"/><circle cx="1661.6" cy="1305.3" r="6.45"/><circle cx="1665.2" cy="1363.4" r="6.45"/><circle cx="1676.4" cy="1256.1" r="6.45"/><circle cx="1674.7" cy="1271.1" r="6.45"/><circle cx="1685.5" cy="1237.5" r="6.45"/><circle cx="1678.3" cy="1298.9" r="6.45"/><circle cx="1689.1" cy="1303.9" r="6.45"/><circle cx="1687.5" cy="1309.5" r="6.45"/><circle cx="1693.0" cy="1315.0" r="6.45"/><circle cx="1680.2" cy="1339.2" r="6.45"/><circle cx="1685.5" cy="1342.3" r="6.45"/><circle cx="1691.1" cy="1345.6" r="6.45"/><circle cx="1698.6" cy="1348.9" r="6.45"/><circle cx="1696.6" cy="1355.9" r="6.45"/><circle cx="1704.2" cy="1351.7" r="6.45"/><circle cx="1706.1" cy="1358.1" r="6.45"/><circle cx="1709.7" cy="1362.8" r="6.45"/><circle cx="1713.3" cy="1366.4" r="6.45"/><circle cx="1702.2" cy="1335.3" r="6.45"/><circle cx="1670.8" cy="1392.8" r="6.45"/><circle cx="1669.1" cy="1397.6" r="6.45"/><circle cx="1681.9" cy="1398.4" r="6.45"/><circle cx="1672.7" cy="1425.7" r="6.45"/><circle cx="1694.7" cy="1407.6" r="6.45"/><circle cx="1700.3" cy="1404.5" r="6.45"/><circle cx="1711.4" cy="1409.3" r="6.45"/><circle cx="1709.7" cy="1292.8" r="6.45"/><circle cx="1715.3" cy="1328.9" r="6.45"/><circle cx="1718.9" cy="1330.3" r="6.45"/><circle cx="1720.6" cy="1358.7" r="6.45"/><circle cx="1716.9" cy="1386.7" r="6.45"/><circle cx="1726.4" cy="1271.1" r="6.45"/><circle cx="1735.6" cy="1267.2" r="6.45"/><circle cx="1724.4" cy="1281.1" r="6.45"/><circle cx="1728.9" cy="1281.7" r="6.45"/><circle cx="1722.5" cy="1298.9" r="6.45"/><circle cx="1730.0" cy="1322.8" r="6.45"/><circle cx="1737.2" cy="1313.6" r="6.45"/><circle cx="1739.2" cy="1319.2" r="6.45"/><circle cx="1744.7" cy="1322.0" r="6.45"/><circle cx="1753.9" cy="1324.7" r="6.45"/><circle cx="1732.0" cy="1334.5" r="6.45"/><circle cx="1741.1" cy="1345.3" r="6.45"/><circle cx="1742.8" cy="1359.2" r="6.45"/><circle cx="1733.6" cy="1413.1" r="6.45"/><circle cx="1750.3" cy="1216.3" r="6.45"/><circle cx="1746.4" cy="1224.7" r="6.45"/><circle cx="1755.9" cy="1196.9" r="6.45"/><circle cx="1772.3" cy="1205.5" r="6.45"/><circle cx="1766.7" cy="1238.0" r="6.45"/><circle cx="1748.4" cy="1283.6" r="6.45"/><circle cx="1752.0" cy="1278.9" r="6.45"/><circle cx="1765.0" cy="1312.2" r="6.45"/><circle cx="1774.2" cy="1311.7" r="6.45"/><circle cx="1783.7" cy="1305.3" r="6.45"/><circle cx="1789.2" cy="1304.7" r="6.45"/><circle cx="1768.6" cy="1327.0" r="6.45"/><circle cx="1777.8" cy="1336.4" r="6.45"/><circle cx="1770.6" cy="1357.0" r="6.45"/><circle cx="1779.8" cy="1366.4" r="6.45"/><circle cx="1776.2" cy="1291.4" r="6.45"/><circle cx="1785.3" cy="1276.1" r="6.45"/><circle cx="1792.8" cy="1272.5" r="6.45"/><circle cx="1759.5" cy="1402.0" r="6.45"/><circle cx="1781.7" cy="1388.7" r="6.45"/><circle cx="1761.4" cy="1459.8" r="6.45"/><circle cx="1757.5" cy="1491.8" r="6.45"/><circle cx="1763.1" cy="1510.2" r="6.45"/><circle cx="1794.8" cy="1344.8" r="6.45"/><circle cx="1802.0" cy="1350.3" r="6.45"/><circle cx="1807.6" cy="1340.9" r="6.45"/><circle cx="1798.4" cy="1365.6" r="6.45"/><circle cx="1789.2" cy="1373.1" r="6.45"/><circle cx="1796.4" cy="1374.8" r="6.45"/><circle cx="1811.2" cy="1361.7" r="6.45"/><circle cx="1815.1" cy="1351.2" r="6.45"/><circle cx="1804.0" cy="1398.1" r="6.45"/><circle cx="1805.6" cy="1420.1" r="6.45"/><circle cx="1800.3" cy="1427.0" r="6.45"/><circle cx="1813.1" cy="1272.2" r="6.45"/><circle cx="1809.5" cy="1284.7" r="6.45"/><circle cx="1818.7" cy="1439.3" r="6.45"/><circle cx="1826.2" cy="1445.1" r="6.45"/><circle cx="1820.4" cy="1452.6" r="6.45"/><circle cx="1824.2" cy="1474.3" r="6.45"/><circle cx="1822.3" cy="1406.2" r="6.45"/><circle cx="1816.7" cy="1544.1" r="6.45"/><circle cx="1827.9" cy="1380.3" r="6.45"/><circle cx="1835.4" cy="1278.0" r="6.45"/><circle cx="1837.0" cy="1308.9" r="6.45"/><circle cx="1833.4" cy="1322.5" r="6.45"/><circle cx="1831.5" cy="1333.1" r="6.45"/><circle cx="1829.5" cy="1345.0" r="6.45"/><circle cx="1839.0" cy="1357.3" r="6.45"/><circle cx="1840.6" cy="1378.9" r="6.45"/><circle cx="1844.5" cy="1387.3" r="6.45"/><circle cx="1842.6" cy="1403.4" r="6.45"/><circle cx="1846.2" cy="1317.0" r="6.45"/><circle cx="1850.1" cy="1326.7" r="6.45"/><circle cx="1848.2" cy="1163.5" r="6.45"/><circle cx="1851.8" cy="1249.1" r="6.45"/>
</g>
<rect x="226.0" y="1017.0" width="1658.0" height="638.0" fill="none" stroke="#000" stroke-width="5.8"/>
<g class="b a" text-anchor="middle">
<text class="" transform="translate(258.0 1721.5) scale(1 1.06)">0</text>
<text class="" transform="translate(391.0 1721.5) scale(1 1.06)">6</text>
<text class="" transform="translate(524.0 1721.5) scale(1 1.06)">12</text>
<text class="" transform="translate(656.9 1721.5) scale(1 1.06)">18</text>
<text class="" transform="translate(789.9 1721.5) scale(1 1.06)">24</text>
<text class="" transform="translate(922.9 1721.5) scale(1 1.06)">30</text>
<text class="" transform="translate(1055.9 1721.5) scale(1 1.06)">36</text>
<text class="" transform="translate(1188.8 1721.5) scale(1 1.06)">42</text>
<text class="" transform="translate(1321.8 1721.5) scale(1 1.06)">48</text>
<text class="" transform="translate(1454.8 1721.5) scale(1 1.06)">54</text>
<text class="" transform="translate(1587.8 1721.5) scale(1 1.06)">60</text>
<text class="" transform="translate(1720.8 1721.5) scale(1 1.06)">66</text>
<text class="" transform="translate(1853.7 1721.5) scale(1 1.06)">72</text>
</g>
<g class="b a" text-anchor="end">
<text class="" transform="translate(191.0 1038.3) scale(1 1.06)">14</text>
<text class="" transform="translate(191.0 1172.0) scale(1 1.06)">7</text>
<text class="" transform="translate(191.0 1305.6) scale(1 1.06)">0</text>
<text class="" transform="translate(191.0 1439.2) scale(1 1.06)"><tspan dy="3.7">−</tspan><tspan dy="-3.7">7</tspan></text>
<text class="" transform="translate(191.0 1572.9) scale(1 1.06)"><tspan dy="3.7">−</tspan><tspan dy="-3.7">14</tspan></text>
</g>
<text class="l" transform="translate(90.2 1336.0) rotate(-90) scale(1 1.045)">North (mm)</text>
<path d="M258.0 1833.0v-19.0M258.0 2471.0v19.0M302.3 1833.0v-10.0M302.3 2471.0v10.0M346.7 1833.0v-10.0M346.7 2471.0v10.0M391.0 1833.0v-19.0M391.0 2471.0v19.0M435.3 1833.0v-10.0M435.3 2471.0v10.0M479.6 1833.0v-10.0M479.6 2471.0v10.0M524.0 1833.0v-19.0M524.0 2471.0v19.0M568.3 1833.0v-10.0M568.3 2471.0v10.0M612.6 1833.0v-10.0M612.6 2471.0v10.0M656.9 1833.0v-19.0M656.9 2471.0v19.0M701.3 1833.0v-10.0M701.3 2471.0v10.0M745.6 1833.0v-10.0M745.6 2471.0v10.0M789.9 1833.0v-19.0M789.9 2471.0v19.0M834.2 1833.0v-10.0M834.2 2471.0v10.0M878.6 1833.0v-10.0M878.6 2471.0v10.0M922.9 1833.0v-19.0M922.9 2471.0v19.0M967.2 1833.0v-10.0M967.2 2471.0v10.0M1011.5 1833.0v-10.0M1011.5 2471.0v10.0M1055.9 1833.0v-19.0M1055.9 2471.0v19.0M1100.2 1833.0v-10.0M1100.2 2471.0v10.0M1144.5 1833.0v-10.0M1144.5 2471.0v10.0M1188.8 1833.0v-19.0M1188.8 2471.0v19.0M1233.2 1833.0v-10.0M1233.2 2471.0v10.0M1277.5 1833.0v-10.0M1277.5 2471.0v10.0M1321.8 1833.0v-19.0M1321.8 2471.0v19.0M1366.2 1833.0v-10.0M1366.2 2471.0v10.0M1410.5 1833.0v-10.0M1410.5 2471.0v10.0M1454.8 1833.0v-19.0M1454.8 2471.0v19.0M1499.1 1833.0v-10.0M1499.1 2471.0v10.0M1543.5 1833.0v-10.0M1543.5 2471.0v10.0M1587.8 1833.0v-19.0M1587.8 2471.0v19.0M1632.1 1833.0v-10.0M1632.1 2471.0v10.0M1676.4 1833.0v-10.0M1676.4 2471.0v10.0M1720.8 1833.0v-19.0M1720.8 2471.0v19.0M1765.1 1833.0v-10.0M1765.1 2471.0v10.0M1809.4 1833.0v-10.0M1809.4 2471.0v10.0M1853.7 1833.0v-19.0M1853.7 2471.0v19.0M226.0 1913.3h-19.0M1884.0 1913.3h19.0M226.0 2010.9h-19.0M1884.0 2010.9h19.0M226.0 2108.5h-19.0M1884.0 2108.5h19.0M226.0 2206.1h-19.0M1884.0 2206.1h19.0M226.0 2303.7h-19.0M1884.0 2303.7h19.0M226.0 2401.4h-19.0M1884.0 2401.4h19.0" fill="none" stroke="#000" stroke-width="2.1"/>
<g class="d" fill="#00f">
<circle cx="257.7" cy="2108.2" r="6.45"/><circle cx="261.3" cy="2147.1" r="6.45"/><circle cx="263.2" cy="2145.7" r="6.45"/><circle cx="266.8" cy="2095.7" r="6.45"/><circle cx="276.0" cy="2092.6" r="6.45"/><circle cx="270.5" cy="2067.9" r="6.45"/><circle cx="274.4" cy="1988.4" r="6.45"/><circle cx="287.1" cy="1989.5" r="6.45"/><circle cx="279.9" cy="1999.5" r="6.45"/><circle cx="281.6" cy="2000.4" r="6.45"/><circle cx="292.7" cy="2007.9" r="6.45"/><circle cx="278.0" cy="2017.0" r="6.45"/><circle cx="285.5" cy="2017.6" r="6.45"/><circle cx="291.0" cy="2025.7" r="6.45"/><circle cx="268.8" cy="2027.6" r="6.45"/><circle cx="264.9" cy="2037.1" r="6.45"/><circle cx="272.4" cy="2039.8" r="6.45"/><circle cx="283.5" cy="2039.3" r="6.45"/><circle cx="294.6" cy="2042.9" r="6.45"/><circle cx="289.1" cy="2127.1" r="6.45"/><circle cx="303.8" cy="2058.2" r="6.45"/><circle cx="301.9" cy="2076.8" r="6.45"/><circle cx="296.3" cy="2084.3" r="6.45"/><circle cx="300.2" cy="2086.5" r="6.45"/><circle cx="305.8" cy="2089.3" r="6.45"/><circle cx="311.3" cy="2082.9" r="6.45"/><circle cx="314.9" cy="2073.7" r="6.45"/><circle cx="320.5" cy="2091.5" r="6.45"/><circle cx="298.3" cy="2106.0" r="6.45"/><circle cx="309.4" cy="2104.6" r="6.45"/><circle cx="307.7" cy="2138.5" r="6.45"/><circle cx="316.9" cy="2150.5" r="6.45"/><circle cx="328.0" cy="1977.6" r="6.45"/><circle cx="324.4" cy="2033.2" r="6.45"/><circle cx="313.3" cy="2042.1" r="6.45"/><circle cx="322.4" cy="2044.8" r="6.45"/><circle cx="335.2" cy="2049.0" r="6.45"/><circle cx="330.0" cy="2063.7" r="6.45"/><circle cx="326.1" cy="2066.5" r="6.45"/><circle cx="337.2" cy="2110.2" r="6.45"/><circle cx="351.9" cy="2099.9" r="6.45"/><circle cx="333.6" cy="2135.7" r="6.45"/><circle cx="346.4" cy="2130.5" r="6.45"/><circle cx="357.5" cy="2125.5" r="6.45"/><circle cx="338.8" cy="2160.8" r="6.45"/><circle cx="348.3" cy="2160.2" r="6.45"/><circle cx="340.8" cy="2169.9" r="6.45"/><circle cx="351.9" cy="2170.8" r="6.45"/><circle cx="364.7" cy="2169.4" r="6.45"/><circle cx="331.6" cy="2186.6" r="6.45"/><circle cx="344.4" cy="2186.1" r="6.45"/><circle cx="355.5" cy="2186.6" r="6.45"/><circle cx="359.1" cy="2200.5" r="6.45"/><circle cx="342.7" cy="2243.6" r="6.45"/><circle cx="368.6" cy="2237.5" r="6.45"/><circle cx="363.0" cy="2256.9" r="6.45"/><circle cx="361.1" cy="2267.2" r="6.45"/><circle cx="370.3" cy="2152.7" r="6.45"/><circle cx="374.2" cy="2081.3" r="6.45"/><circle cx="379.7" cy="2103.2" r="6.45"/><circle cx="385.3" cy="2106.0" r="6.45"/><circle cx="383.3" cy="2111.0" r="6.45"/><circle cx="377.8" cy="2124.6" r="6.45"/><circle cx="400.0" cy="2105.2" r="6.45"/><circle cx="392.5" cy="2129.6" r="6.45"/><circle cx="390.6" cy="2136.6" r="6.45"/><circle cx="388.9" cy="2143.5" r="6.45"/><circle cx="386.4" cy="2150.5" r="6.45"/><circle cx="396.4" cy="2150.5" r="6.45"/><circle cx="381.4" cy="2177.7" r="6.45"/><circle cx="372.2" cy="2181.1" r="6.45"/><circle cx="366.6" cy="2190.2" r="6.45"/><circle cx="376.1" cy="2190.8" r="6.45"/><circle cx="394.4" cy="2175.5" r="6.45"/><circle cx="398.1" cy="2178.8" r="6.45"/><circle cx="402.0" cy="2182.4" r="6.45"/><circle cx="412.8" cy="2183.0" r="6.45"/><circle cx="407.2" cy="2193.6" r="6.45"/><circle cx="403.6" cy="2200.0" r="6.45"/><circle cx="409.2" cy="2201.9" r="6.45"/><circle cx="414.7" cy="2144.1" r="6.45"/><circle cx="422.0" cy="2150.5" r="6.45"/><circle cx="416.4" cy="2152.7" r="6.45"/><circle cx="425.9" cy="2199.1" r="6.45"/><circle cx="431.4" cy="2203.8" r="6.45"/><circle cx="423.9" cy="2203.3" r="6.45"/><circle cx="420.3" cy="2215.0" r="6.45"/><circle cx="429.5" cy="2218.0" r="6.45"/><circle cx="436.7" cy="2214.4" r="6.45"/><circle cx="405.6" cy="2242.2" r="6.45"/><circle cx="411.1" cy="2254.7" r="6.45"/><circle cx="418.4" cy="2258.9" r="6.45"/><circle cx="427.5" cy="2246.9" r="6.45"/><circle cx="435.0" cy="2249.7" r="6.45"/><circle cx="442.5" cy="2244.2" r="6.45"/><circle cx="433.1" cy="2287.0" r="6.45"/><circle cx="440.6" cy="2146.3" r="6.45"/><circle cx="438.9" cy="2167.4" r="6.45"/><circle cx="444.2" cy="2191.6" r="6.45"/><circle cx="446.2" cy="2076.2" r="6.45"/><circle cx="457.3" cy="2079.6" r="6.45"/><circle cx="451.7" cy="1905.3" r="6.45"/><circle cx="449.8" cy="1916.4" r="6.45"/><circle cx="448.1" cy="1943.1" r="6.45"/><circle cx="460.9" cy="2139.6" r="6.45"/><circle cx="462.8" cy="2206.1" r="6.45"/><circle cx="474.0" cy="2198.8" r="6.45"/><circle cx="453.7" cy="2221.4" r="6.45"/><circle cx="459.2" cy="2225.0" r="6.45"/><circle cx="466.7" cy="2227.8" r="6.45"/><circle cx="464.8" cy="2249.2" r="6.45"/><circle cx="472.0" cy="2259.4" r="6.45"/><circle cx="475.6" cy="2238.9" r="6.45"/><circle cx="483.1" cy="2228.3" r="6.45"/><circle cx="485.1" cy="2235.3" r="6.45"/><circle cx="488.7" cy="2245.0" r="6.45"/><circle cx="453.7" cy="2297.5" r="6.45"/><circle cx="479.5" cy="2290.9" r="6.45"/><circle cx="492.3" cy="2308.9" r="6.45"/><circle cx="468.4" cy="2322.8" r="6.45"/><circle cx="477.6" cy="2326.4" r="6.45"/><circle cx="470.3" cy="2331.7" r="6.45"/><circle cx="490.4" cy="2327.3" r="6.45"/><circle cx="481.2" cy="2387.0" r="6.45"/><circle cx="497.9" cy="2414.6" r="6.45"/><circle cx="494.2" cy="2422.1" r="6.45"/><circle cx="496.2" cy="2458.2" r="6.45"/><circle cx="486.7" cy="2175.5" r="6.45"/><circle cx="501.5" cy="2077.4" r="6.45"/><circle cx="503.4" cy="2076.2" r="6.45"/><circle cx="507.0" cy="2111.8" r="6.45"/><circle cx="499.5" cy="2140.7" r="6.45"/><circle cx="507.3" cy="2138.0" r="6.45"/><circle cx="512.6" cy="2141.6" r="6.45"/><circle cx="517.0" cy="2143.5" r="6.45"/><circle cx="518.2" cy="2154.6" r="6.45"/><circle cx="514.5" cy="2174.1" r="6.45"/><circle cx="512.6" cy="2179.7" r="6.45"/><circle cx="520.1" cy="2193.0" r="6.45"/><circle cx="521.8" cy="2211.1" r="6.45"/><circle cx="530.9" cy="2102.7" r="6.45"/><circle cx="524.0" cy="2121.3" r="6.45"/><circle cx="536.5" cy="2115.7" r="6.45"/><circle cx="540.4" cy="2119.3" r="6.45"/><circle cx="545.9" cy="2129.6" r="6.45"/><circle cx="551.5" cy="2149.1" r="6.45"/><circle cx="535.1" cy="2160.8" r="6.45"/><circle cx="544.0" cy="2162.4" r="6.45"/><circle cx="525.3" cy="2175.5" r="6.45"/><circle cx="527.3" cy="2191.3" r="6.45"/><circle cx="547.6" cy="2188.6" r="6.45"/><circle cx="555.1" cy="2196.3" r="6.45"/><circle cx="538.4" cy="2198.6" r="6.45"/><circle cx="529.2" cy="2207.5" r="6.45"/><circle cx="542.0" cy="2218.6" r="6.45"/><circle cx="532.8" cy="2233.9" r="6.45"/><circle cx="549.5" cy="2019.8" r="6.45"/><circle cx="557.0" cy="2028.7" r="6.45"/><circle cx="553.1" cy="2039.8" r="6.45"/><circle cx="560.6" cy="2049.8" r="6.45"/><circle cx="564.8" cy="2049.0" r="6.45"/><circle cx="562.3" cy="2062.9" r="6.45"/><circle cx="566.2" cy="2065.7" r="6.45"/><circle cx="568.4" cy="2073.5" r="6.45"/><circle cx="558.7" cy="2085.1" r="6.45"/><circle cx="579.3" cy="2093.5" r="6.45"/><circle cx="584.8" cy="2094.9" r="6.45"/><circle cx="580.9" cy="2127.4" r="6.45"/><circle cx="588.4" cy="2133.8" r="6.45"/><circle cx="575.4" cy="2141.6" r="6.45"/><circle cx="573.7" cy="2158.8" r="6.45"/><circle cx="571.8" cy="2191.3" r="6.45"/><circle cx="582.9" cy="2193.0" r="6.45"/><circle cx="569.8" cy="2231.1" r="6.45"/><circle cx="577.3" cy="2237.2" r="6.45"/><circle cx="592.1" cy="2156.0" r="6.45"/><circle cx="599.6" cy="2158.8" r="6.45"/><circle cx="586.5" cy="2165.2" r="6.45"/><circle cx="597.6" cy="2166.6" r="6.45"/><circle cx="590.4" cy="2175.5" r="6.45"/><circle cx="594.0" cy="2182.4" r="6.45"/><circle cx="603.2" cy="2181.1" r="6.45"/><circle cx="605.1" cy="2185.2" r="6.45"/><circle cx="596.0" cy="2197.7" r="6.45"/><circle cx="606.8" cy="2198.3" r="6.45"/><circle cx="599.6" cy="2208.0" r="6.45"/><circle cx="608.7" cy="2087.1" r="6.45"/><circle cx="612.4" cy="2097.7" r="6.45"/><circle cx="616.2" cy="2112.9" r="6.45"/><circle cx="621.5" cy="2119.3" r="6.45"/><circle cx="623.5" cy="2135.7" r="6.45"/><circle cx="610.7" cy="2153.3" r="6.45"/><circle cx="617.9" cy="2162.4" r="6.45"/><circle cx="614.3" cy="2171.9" r="6.45"/><circle cx="625.1" cy="2172.7" r="6.45"/><circle cx="630.7" cy="2166.3" r="6.45"/><circle cx="619.9" cy="2197.2" r="6.45"/><circle cx="627.1" cy="2050.4" r="6.45"/><circle cx="629.0" cy="2060.1" r="6.45"/><circle cx="632.6" cy="2095.4" r="6.45"/><circle cx="636.3" cy="2100.4" r="6.45"/><circle cx="638.2" cy="2105.2" r="6.45"/><circle cx="634.6" cy="2127.4" r="6.45"/><circle cx="640.2" cy="2125.5" r="6.45"/><circle cx="641.8" cy="2156.0" r="6.45"/><circle cx="643.8" cy="2175.5" r="6.45"/><circle cx="645.7" cy="2214.4" r="6.45"/><circle cx="651.3" cy="2219.4" r="6.45"/><circle cx="649.3" cy="2233.9" r="6.45"/><circle cx="652.9" cy="2273.3" r="6.45"/><circle cx="647.4" cy="2316.2" r="6.45"/><circle cx="662.4" cy="2049.6" r="6.45"/><circle cx="660.4" cy="2071.2" r="6.45"/><circle cx="666.0" cy="2087.9" r="6.45"/><circle cx="669.6" cy="2103.2" r="6.45"/><circle cx="664.1" cy="2115.7" r="6.45"/><circle cx="658.5" cy="2126.8" r="6.45"/><circle cx="656.6" cy="2138.5" r="6.45"/><circle cx="654.9" cy="2151.9" r="6.45"/><circle cx="666.0" cy="2176.3" r="6.45"/><circle cx="673.2" cy="2174.1" r="6.45"/><circle cx="677.1" cy="2182.4" r="6.45"/><circle cx="684.4" cy="2174.1" r="6.45"/><circle cx="680.7" cy="2106.0" r="6.45"/><circle cx="688.0" cy="2103.2" r="6.45"/><circle cx="693.5" cy="2106.0" r="6.45"/><circle cx="678.8" cy="2119.9" r="6.45"/><circle cx="675.2" cy="2125.5" r="6.45"/><circle cx="671.6" cy="2126.8" r="6.45"/><circle cx="680.7" cy="2138.5" r="6.45"/><circle cx="686.3" cy="2140.7" r="6.45"/><circle cx="689.9" cy="2160.2" r="6.45"/><circle cx="695.5" cy="2071.2" r="6.45"/><circle cx="697.4" cy="2146.3" r="6.45"/><circle cx="704.9" cy="2149.6" r="6.45"/><circle cx="699.1" cy="2185.2" r="6.45"/><circle cx="701.0" cy="2189.4" r="6.45"/><circle cx="691.9" cy="2211.6" r="6.45"/><circle cx="702.7" cy="2213.0" r="6.45"/><circle cx="706.6" cy="2229.7" r="6.45"/><circle cx="708.3" cy="2231.1" r="6.45"/><circle cx="712.2" cy="2139.9" r="6.45"/><circle cx="719.7" cy="2142.1" r="6.45"/><circle cx="717.7" cy="2169.4" r="6.45"/><circle cx="710.2" cy="2175.5" r="6.45"/><circle cx="715.8" cy="2197.7" r="6.45"/><circle cx="713.8" cy="2203.3" r="6.45"/><circle cx="723.3" cy="2076.0" r="6.45"/><circle cx="738.0" cy="2072.9" r="6.45"/><circle cx="721.3" cy="2113.8" r="6.45"/><circle cx="725.2" cy="2114.9" r="6.45"/><circle cx="726.9" cy="2176.3" r="6.45"/><circle cx="728.8" cy="2210.2" r="6.45"/><circle cx="732.7" cy="2216.4" r="6.45"/><circle cx="730.8" cy="2226.9" r="6.45"/><circle cx="745.5" cy="2094.9" r="6.45"/><circle cx="741.6" cy="2105.2" r="6.45"/><circle cx="734.4" cy="2144.4" r="6.45"/><circle cx="740.0" cy="2147.7" r="6.45"/><circle cx="747.2" cy="2144.9" r="6.45"/><circle cx="749.1" cy="2157.4" r="6.45"/><circle cx="736.3" cy="2160.8" r="6.45"/><circle cx="754.7" cy="2169.9" r="6.45"/><circle cx="752.7" cy="2202.7" r="6.45"/><circle cx="762.2" cy="2235.3" r="6.45"/><circle cx="758.3" cy="2238.0" r="6.45"/><circle cx="756.4" cy="2249.7" r="6.45"/><circle cx="751.1" cy="2259.4" r="6.45"/><circle cx="767.5" cy="2269.2" r="6.45"/><circle cx="763.9" cy="2279.7" r="6.45"/><circle cx="760.2" cy="2290.9" r="6.45"/><circle cx="765.5" cy="2148.5" r="6.45"/><circle cx="787.8" cy="2134.3" r="6.45"/><circle cx="782.2" cy="2165.8" r="6.45"/><circle cx="786.1" cy="2169.9" r="6.45"/><circle cx="776.6" cy="2180.5" r="6.45"/><circle cx="784.2" cy="2181.6" r="6.45"/><circle cx="769.4" cy="2190.2" r="6.45"/><circle cx="773.3" cy="2192.2" r="6.45"/><circle cx="775.0" cy="2200.0" r="6.45"/><circle cx="771.4" cy="2213.0" r="6.45"/><circle cx="778.6" cy="2220.0" r="6.45"/><circle cx="780.5" cy="2234.7" r="6.45"/><circle cx="805.8" cy="1972.8" r="6.45"/><circle cx="810.0" cy="1976.2" r="6.45"/><circle cx="795.2" cy="2008.7" r="6.45"/><circle cx="817.5" cy="2003.7" r="6.45"/><circle cx="819.1" cy="2007.3" r="6.45"/><circle cx="811.9" cy="2014.3" r="6.45"/><circle cx="823.0" cy="2018.4" r="6.45"/><circle cx="804.4" cy="2020.6" r="6.45"/><circle cx="800.8" cy="2028.7" r="6.45"/><circle cx="808.0" cy="2031.8" r="6.45"/><circle cx="815.5" cy="2033.7" r="6.45"/><circle cx="824.7" cy="2034.3" r="6.45"/><circle cx="792.7" cy="2043.4" r="6.45"/><circle cx="789.7" cy="2047.6" r="6.45"/><circle cx="802.5" cy="2042.9" r="6.45"/><circle cx="813.6" cy="2047.6" r="6.45"/><circle cx="798.8" cy="2058.2" r="6.45"/><circle cx="791.3" cy="2063.7" r="6.45"/><circle cx="796.9" cy="2074.0" r="6.45"/><circle cx="821.1" cy="2080.4" r="6.45"/><circle cx="835.8" cy="2058.7" r="6.45"/><circle cx="846.9" cy="2071.5" r="6.45"/><circle cx="854.4" cy="2045.4" r="6.45"/><circle cx="832.2" cy="2092.9" r="6.45"/><circle cx="830.3" cy="2106.0" r="6.45"/><circle cx="833.9" cy="2111.6" r="6.45"/><circle cx="826.6" cy="2117.9" r="6.45"/><circle cx="865.6" cy="2089.3" r="6.45"/><circle cx="848.9" cy="2112.9" r="6.45"/><circle cx="860.0" cy="2111.6" r="6.45"/><circle cx="867.2" cy="2106.8" r="6.45"/><circle cx="863.6" cy="2108.8" r="6.45"/><circle cx="837.8" cy="2126.3" r="6.45"/><circle cx="845.3" cy="2124.9" r="6.45"/><circle cx="856.4" cy="2124.1" r="6.45"/><circle cx="858.1" cy="2128.2" r="6.45"/><circle cx="850.8" cy="2135.2" r="6.45"/><circle cx="841.4" cy="2140.7" r="6.45"/><circle cx="863.6" cy="2133.8" r="6.45"/><circle cx="828.3" cy="2148.2" r="6.45"/><circle cx="856.4" cy="2155.5" r="6.45"/><circle cx="869.2" cy="2156.6" r="6.45"/><circle cx="843.3" cy="2168.0" r="6.45"/><circle cx="839.7" cy="2205.5" r="6.45"/><circle cx="878.4" cy="2126.3" r="6.45"/><circle cx="895.0" cy="2148.2" r="6.45"/><circle cx="883.9" cy="2172.7" r="6.45"/><circle cx="870.8" cy="2183.3" r="6.45"/><circle cx="889.5" cy="2183.3" r="6.45"/><circle cx="900.6" cy="2185.2" r="6.45"/><circle cx="909.8" cy="2180.2" r="6.45"/><circle cx="898.6" cy="2199.1" r="6.45"/><circle cx="906.2" cy="2197.7" r="6.45"/><circle cx="896.7" cy="2204.7" r="6.45"/><circle cx="902.3" cy="2211.6" r="6.45"/><circle cx="876.4" cy="2212.5" r="6.45"/><circle cx="872.8" cy="2220.8" r="6.45"/><circle cx="874.7" cy="2226.9" r="6.45"/><circle cx="893.1" cy="2220.0" r="6.45"/><circle cx="915.3" cy="2215.2" r="6.45"/><circle cx="885.9" cy="2229.7" r="6.45"/><circle cx="891.1" cy="2232.5" r="6.45"/><circle cx="880.3" cy="2238.9" r="6.45"/><circle cx="887.5" cy="2251.9" r="6.45"/><circle cx="907.8" cy="2127.7" r="6.45"/><circle cx="915.3" cy="2153.3" r="6.45"/><circle cx="911.7" cy="2158.0" r="6.45"/><circle cx="918.9" cy="2098.2" r="6.45"/><circle cx="928.4" cy="2087.4" r="6.45"/><circle cx="926.4" cy="2119.9" r="6.45"/><circle cx="922.6" cy="2129.1" r="6.45"/><circle cx="930.1" cy="2131.0" r="6.45"/><circle cx="917.3" cy="2141.6" r="6.45"/><circle cx="924.5" cy="2143.5" r="6.45"/><circle cx="935.6" cy="2142.1" r="6.45"/><circle cx="932.0" cy="2147.7" r="6.45"/><circle cx="939.2" cy="2106.0" r="6.45"/><circle cx="943.1" cy="2097.7" r="6.45"/><circle cx="950.4" cy="2097.7" r="6.45"/><circle cx="937.6" cy="2044.8" r="6.45"/><circle cx="946.7" cy="2023.2" r="6.45"/><circle cx="944.8" cy="2029.5" r="6.45"/><circle cx="952.3" cy="2046.2" r="6.45"/><circle cx="948.4" cy="2051.2" r="6.45"/><circle cx="957.9" cy="2061.0" r="6.45"/><circle cx="955.9" cy="2086.5" r="6.45"/><circle cx="960.1" cy="2086.5" r="6.45"/><circle cx="967.0" cy="2038.4" r="6.45"/><circle cx="970.9" cy="2092.9" r="6.45"/><circle cx="972.6" cy="2111.6" r="6.45"/><circle cx="963.4" cy="2124.9" r="6.45"/><circle cx="961.5" cy="2135.7" r="6.45"/><circle cx="954.0" cy="2151.9" r="6.45"/><circle cx="965.1" cy="2167.7" r="6.45"/><circle cx="941.2" cy="2189.9" r="6.45"/><circle cx="968.7" cy="2196.3" r="6.45"/><circle cx="978.2" cy="2191.6" r="6.45"/><circle cx="976.2" cy="2205.2" r="6.45"/><circle cx="974.5" cy="1957.3" r="6.45"/><circle cx="982.3" cy="1955.9" r="6.45"/><circle cx="980.1" cy="1988.1" r="6.45"/><circle cx="998.4" cy="1992.3" r="6.45"/><circle cx="994.8" cy="2065.7" r="6.45"/><circle cx="989.3" cy="2097.1" r="6.45"/><circle cx="991.2" cy="2101.8" r="6.45"/><circle cx="983.7" cy="2126.8" r="6.45"/><circle cx="992.9" cy="2125.5" r="6.45"/><circle cx="996.8" cy="2121.8" r="6.45"/><circle cx="1000.4" cy="2119.9" r="6.45"/><circle cx="1004.0" cy="2139.4" r="6.45"/><circle cx="987.3" cy="2163.5" r="6.45"/><circle cx="985.7" cy="2236.1" r="6.45"/><circle cx="1017.1" cy="2180.2" r="6.45"/><circle cx="1009.6" cy="2190.8" r="6.45"/><circle cx="1002.3" cy="2197.7" r="6.45"/><circle cx="1024.3" cy="2203.8" r="6.45"/><circle cx="1006.0" cy="2236.6" r="6.45"/><circle cx="1011.5" cy="2238.0" r="6.45"/><circle cx="1022.4" cy="2233.9" r="6.45"/><circle cx="1029.9" cy="2242.2" r="6.45"/><circle cx="1041.0" cy="2242.8" r="6.45"/><circle cx="1015.1" cy="2254.2" r="6.45"/><circle cx="1006.0" cy="2268.6" r="6.45"/><circle cx="1018.7" cy="2275.6" r="6.45"/><circle cx="1028.2" cy="2269.5" r="6.45"/><circle cx="1039.0" cy="2272.8" r="6.45"/><circle cx="1037.4" cy="2277.0" r="6.45"/><circle cx="1020.7" cy="2322.5" r="6.45"/><circle cx="1042.6" cy="2200.0" r="6.45"/><circle cx="1031.5" cy="2141.3" r="6.45"/><circle cx="1033.5" cy="2054.3" r="6.45"/><circle cx="1035.4" cy="2074.9" r="6.45"/><circle cx="1050.2" cy="2056.5" r="6.45"/><circle cx="1048.2" cy="2062.9" r="6.45"/><circle cx="1046.5" cy="2098.5" r="6.45"/><circle cx="1044.6" cy="2112.1" r="6.45"/><circle cx="1052.1" cy="2119.9" r="6.45"/><circle cx="1053.8" cy="2122.7" r="6.45"/><circle cx="1056.0" cy="2037.1" r="6.45"/><circle cx="1062.9" cy="2035.9" r="6.45"/><circle cx="1059.3" cy="2078.2" r="6.45"/><circle cx="1057.3" cy="2089.3" r="6.45"/><circle cx="1061.2" cy="2096.3" r="6.45"/><circle cx="1064.8" cy="2106.0" r="6.45"/><circle cx="1068.5" cy="2117.1" r="6.45"/><circle cx="1077.9" cy="2115.2" r="6.45"/><circle cx="1074.0" cy="2062.1" r="6.45"/><circle cx="1076.0" cy="2076.0" r="6.45"/><circle cx="1070.4" cy="2003.7" r="6.45"/><circle cx="1066.8" cy="2010.1" r="6.45"/><circle cx="1072.4" cy="2017.0" r="6.45"/><circle cx="1079.6" cy="1998.1" r="6.45"/><circle cx="1085.1" cy="2013.4" r="6.45"/><circle cx="1081.5" cy="1964.2" r="6.45"/><circle cx="1083.5" cy="1973.9" r="6.45"/><circle cx="1087.1" cy="1979.5" r="6.45"/><circle cx="1090.7" cy="1986.5" r="6.45"/><circle cx="1098.2" cy="1983.1" r="6.45"/><circle cx="1089.0" cy="1927.0" r="6.45"/><circle cx="1092.6" cy="1951.2" r="6.45"/><circle cx="1109.3" cy="1989.8" r="6.45"/><circle cx="1112.9" cy="2020.4" r="6.45"/><circle cx="1094.3" cy="2035.1" r="6.45"/><circle cx="1099.9" cy="2043.4" r="6.45"/><circle cx="1105.7" cy="2044.8" r="6.45"/><circle cx="1101.8" cy="2063.2" r="6.45"/><circle cx="1096.3" cy="2076.2" r="6.45"/><circle cx="1116.8" cy="2059.3" r="6.45"/><circle cx="1122.4" cy="2068.5" r="6.45"/><circle cx="1107.4" cy="2083.2" r="6.45"/><circle cx="1114.9" cy="2080.4" r="6.45"/><circle cx="1118.5" cy="2081.8" r="6.45"/><circle cx="1111.0" cy="2087.9" r="6.45"/><circle cx="1120.4" cy="2096.3" r="6.45"/><circle cx="1103.8" cy="2209.1" r="6.45"/><circle cx="1135.2" cy="2111.8" r="6.45"/><circle cx="1144.4" cy="2081.8" r="6.45"/><circle cx="1157.1" cy="2081.5" r="6.45"/><circle cx="1155.5" cy="2092.9" r="6.45"/><circle cx="1138.8" cy="2133.0" r="6.45"/><circle cx="1151.9" cy="2136.6" r="6.45"/><circle cx="1164.6" cy="2134.6" r="6.45"/><circle cx="1153.5" cy="2144.4" r="6.45"/><circle cx="1161.0" cy="2144.9" r="6.45"/><circle cx="1128.0" cy="2148.0" r="6.45"/><circle cx="1142.4" cy="2155.2" r="6.45"/><circle cx="1133.2" cy="2158.8" r="6.45"/><circle cx="1129.6" cy="2162.4" r="6.45"/><circle cx="1126.0" cy="2197.7" r="6.45"/><circle cx="1124.1" cy="2201.1" r="6.45"/><circle cx="1137.1" cy="2202.7" r="6.45"/><circle cx="1148.2" cy="2206.1" r="6.45"/><circle cx="1149.9" cy="2232.5" r="6.45"/><circle cx="1146.3" cy="2253.3" r="6.45"/><circle cx="1168.3" cy="2024.0" r="6.45"/><circle cx="1159.1" cy="2047.1" r="6.45"/><circle cx="1166.6" cy="2072.9" r="6.45"/><circle cx="1172.2" cy="2084.6" r="6.45"/><circle cx="1179.4" cy="2147.7" r="6.45"/><circle cx="1170.2" cy="2151.9" r="6.45"/><circle cx="1162.7" cy="2158.8" r="6.45"/><circle cx="1184.9" cy="2159.6" r="6.45"/><circle cx="1173.8" cy="2173.5" r="6.45"/><circle cx="1181.3" cy="2172.7" r="6.45"/><circle cx="1177.7" cy="2229.7" r="6.45"/><circle cx="1175.8" cy="2245.0" r="6.45"/><circle cx="1183.3" cy="2247.2" r="6.45"/><circle cx="1196.1" cy="1971.7" r="6.45"/><circle cx="1190.5" cy="2033.2" r="6.45"/><circle cx="1195.5" cy="2032.3" r="6.45"/><circle cx="1200.0" cy="2032.6" r="6.45"/><circle cx="1186.9" cy="2052.1" r="6.45"/><circle cx="1205.2" cy="2059.3" r="6.45"/><circle cx="1216.4" cy="2042.9" r="6.45"/><circle cx="1188.6" cy="2098.5" r="6.45"/><circle cx="1190.5" cy="2108.2" r="6.45"/><circle cx="1198.0" cy="2106.8" r="6.45"/><circle cx="1214.4" cy="2086.5" r="6.45"/><circle cx="1218.3" cy="2093.5" r="6.45"/><circle cx="1210.8" cy="2095.7" r="6.45"/><circle cx="1209.1" cy="2112.1" r="6.45"/><circle cx="1210.8" cy="2117.1" r="6.45"/><circle cx="1220.0" cy="2117.1" r="6.45"/><circle cx="1229.4" cy="2122.1" r="6.45"/><circle cx="1203.6" cy="2132.4" r="6.45"/><circle cx="1201.6" cy="2168.5" r="6.45"/><circle cx="1207.2" cy="2184.7" r="6.45"/><circle cx="1221.9" cy="2173.0" r="6.45"/><circle cx="1231.1" cy="2161.0" r="6.45"/><circle cx="1227.5" cy="2208.8" r="6.45"/><circle cx="1233.0" cy="2206.9" r="6.45"/><circle cx="1238.6" cy="2208.3" r="6.45"/><circle cx="1225.5" cy="2215.0" r="6.45"/><circle cx="1223.9" cy="2231.9" r="6.45"/><circle cx="1234.7" cy="2273.1" r="6.45"/><circle cx="1240.3" cy="2138.8" r="6.45"/><circle cx="1244.2" cy="2149.1" r="6.45"/><circle cx="1236.6" cy="2175.5" r="6.45"/><circle cx="1245.8" cy="2179.7" r="6.45"/><circle cx="1247.8" cy="2191.3" r="6.45"/><circle cx="1242.2" cy="2074.9" r="6.45"/><circle cx="1249.7" cy="2052.3" r="6.45"/><circle cx="1253.3" cy="2019.8" r="6.45"/><circle cx="1251.7" cy="1967.8" r="6.45"/><circle cx="1255.3" cy="1940.6" r="6.45"/><circle cx="1264.4" cy="2054.0" r="6.45"/><circle cx="1268.3" cy="2044.8" r="6.45"/><circle cx="1270.0" cy="2078.2" r="6.45"/><circle cx="1266.4" cy="2092.1" r="6.45"/><circle cx="1260.8" cy="2112.9" r="6.45"/><circle cx="1258.9" cy="2119.9" r="6.45"/><circle cx="1257.2" cy="2131.0" r="6.45"/><circle cx="1277.5" cy="2116.3" r="6.45"/><circle cx="1279.2" cy="2122.7" r="6.45"/><circle cx="1283.1" cy="2133.0" r="6.45"/><circle cx="1273.6" cy="2171.3" r="6.45"/><circle cx="1281.1" cy="2172.7" r="6.45"/><circle cx="1275.6" cy="2181.1" r="6.45"/><circle cx="1262.8" cy="2228.9" r="6.45"/><circle cx="1272.0" cy="2226.4" r="6.45"/><circle cx="1286.7" cy="2223.0" r="6.45"/><circle cx="1284.7" cy="2055.4" r="6.45"/><circle cx="1297.5" cy="2059.6" r="6.45"/><circle cx="1288.4" cy="2003.7" r="6.45"/><circle cx="1292.2" cy="1958.1" r="6.45"/><circle cx="1290.3" cy="2110.2" r="6.45"/><circle cx="1295.9" cy="2114.9" r="6.45"/><circle cx="1299.5" cy="2119.9" r="6.45"/><circle cx="1303.4" cy="2117.1" r="6.45"/><circle cx="1305.0" cy="2104.6" r="6.45"/><circle cx="1307.0" cy="2095.4" r="6.45"/><circle cx="1319.8" cy="2096.0" r="6.45"/><circle cx="1301.4" cy="2138.5" r="6.45"/><circle cx="1295.9" cy="2151.0" r="6.45"/><circle cx="1318.1" cy="2135.7" r="6.45"/><circle cx="1310.6" cy="2147.7" r="6.45"/><circle cx="1315.0" cy="2151.3" r="6.45"/><circle cx="1312.5" cy="2163.5" r="6.45"/><circle cx="1308.6" cy="2186.6" r="6.45"/><circle cx="1316.2" cy="2191.3" r="6.45"/><circle cx="1325.3" cy="1853.6" r="6.45"/><circle cx="1328.9" cy="1858.0" r="6.45"/><circle cx="1338.4" cy="1856.6" r="6.45"/><circle cx="1349.5" cy="1855.2" r="6.45"/><circle cx="1353.1" cy="1860.5" r="6.45"/><circle cx="1321.7" cy="1869.7" r="6.45"/><circle cx="1323.3" cy="1876.6" r="6.45"/><circle cx="1336.4" cy="1889.7" r="6.45"/><circle cx="1356.7" cy="1887.5" r="6.45"/><circle cx="1334.5" cy="1907.2" r="6.45"/><circle cx="1340.0" cy="1910.8" r="6.45"/><circle cx="1327.2" cy="1919.7" r="6.45"/><circle cx="1342.0" cy="1923.4" r="6.45"/><circle cx="1346.1" cy="1925.3" r="6.45"/><circle cx="1343.9" cy="1937.0" r="6.45"/><circle cx="1332.8" cy="1940.6" r="6.45"/><circle cx="1351.1" cy="1948.9" r="6.45"/><circle cx="1330.8" cy="1962.3" r="6.45"/><circle cx="1365.9" cy="1962.8" r="6.45"/><circle cx="1347.5" cy="1985.6" r="6.45"/><circle cx="1371.7" cy="1996.2" r="6.45"/><circle cx="1399.2" cy="1970.6" r="6.45"/><circle cx="1355.0" cy="2022.6" r="6.45"/><circle cx="1364.2" cy="2035.9" r="6.45"/><circle cx="1373.4" cy="2027.6" r="6.45"/><circle cx="1382.8" cy="2025.4" r="6.45"/><circle cx="1384.5" cy="2017.9" r="6.45"/><circle cx="1394.0" cy="2017.0" r="6.45"/><circle cx="1375.3" cy="2042.9" r="6.45"/><circle cx="1378.9" cy="2051.2" r="6.45"/><circle cx="1388.4" cy="2055.4" r="6.45"/><circle cx="1369.8" cy="2061.0" r="6.45"/><circle cx="1377.0" cy="2064.3" r="6.45"/><circle cx="1386.4" cy="2072.1" r="6.45"/><circle cx="1367.8" cy="2086.0" r="6.45"/><circle cx="1360.3" cy="2090.1" r="6.45"/><circle cx="1358.6" cy="2124.1" r="6.45"/><circle cx="1362.3" cy="2136.8" r="6.45"/><circle cx="1406.7" cy="2094.0" r="6.45"/><circle cx="1414.2" cy="2096.8" r="6.45"/><circle cx="1392.0" cy="2104.6" r="6.45"/><circle cx="1380.9" cy="2116.6" r="6.45"/><circle cx="1401.2" cy="2113.5" r="6.45"/><circle cx="1412.3" cy="2115.7" r="6.45"/><circle cx="1395.6" cy="2121.3" r="6.45"/><circle cx="1410.4" cy="2124.9" r="6.45"/><circle cx="1397.6" cy="2131.0" r="6.45"/><circle cx="1419.5" cy="2133.2" r="6.45"/><circle cx="1390.1" cy="2143.0" r="6.45"/><circle cx="1408.4" cy="2144.9" r="6.45"/><circle cx="1421.5" cy="2146.3" r="6.45"/><circle cx="1423.4" cy="2147.7" r="6.45"/><circle cx="1436.2" cy="2152.7" r="6.45"/><circle cx="1443.7" cy="2158.8" r="6.45"/><circle cx="1441.8" cy="2163.0" r="6.45"/><circle cx="1417.9" cy="2174.9" r="6.45"/><circle cx="1425.1" cy="2183.8" r="6.45"/><circle cx="1432.6" cy="2182.4" r="6.45"/><circle cx="1402.8" cy="2181.6" r="6.45"/><circle cx="1415.9" cy="2203.3" r="6.45"/><circle cx="1428.7" cy="2202.7" r="6.45"/><circle cx="1434.3" cy="2200.5" r="6.45"/><circle cx="1430.6" cy="2211.1" r="6.45"/><circle cx="1439.8" cy="2227.2" r="6.45"/><circle cx="1404.8" cy="2230.3" r="6.45"/><circle cx="1427.0" cy="2241.7" r="6.45"/><circle cx="1445.4" cy="2003.4" r="6.45"/><circle cx="1449.3" cy="2036.5" r="6.45"/><circle cx="1458.4" cy="2044.8" r="6.45"/><circle cx="1464.0" cy="2048.4" r="6.45"/><circle cx="1454.6" cy="2052.6" r="6.45"/><circle cx="1460.4" cy="2055.4" r="6.45"/><circle cx="1452.9" cy="2058.2" r="6.45"/><circle cx="1450.9" cy="2065.7" r="6.45"/><circle cx="1456.5" cy="2065.7" r="6.45"/><circle cx="1475.1" cy="2053.2" r="6.45"/><circle cx="1447.3" cy="2083.8" r="6.45"/><circle cx="1438.2" cy="2090.1" r="6.45"/><circle cx="1466.0" cy="2103.5" r="6.45"/><circle cx="1469.6" cy="2011.5" r="6.45"/><circle cx="1478.7" cy="2012.3" r="6.45"/><circle cx="1473.2" cy="2017.0" r="6.45"/><circle cx="1467.6" cy="2021.2" r="6.45"/><circle cx="1473.2" cy="2027.6" r="6.45"/><circle cx="1480.4" cy="1986.2" r="6.45"/><circle cx="1491.5" cy="2025.1" r="6.45"/><circle cx="1502.9" cy="2029.5" r="6.45"/><circle cx="1504.6" cy="2000.9" r="6.45"/><circle cx="1513.8" cy="1967.0" r="6.45"/><circle cx="1510.2" cy="1845.5" r="6.45"/><circle cx="1511.8" cy="2042.9" r="6.45"/><circle cx="1523.2" cy="2039.8" r="6.45"/><circle cx="1499.0" cy="2062.9" r="6.45"/><circle cx="1502.9" cy="2060.1" r="6.45"/><circle cx="1508.2" cy="2058.7" r="6.45"/><circle cx="1517.7" cy="2058.7" r="6.45"/><circle cx="1508.2" cy="2067.6" r="6.45"/><circle cx="1521.3" cy="2065.7" r="6.45"/><circle cx="1525.4" cy="2071.2" r="6.45"/><circle cx="1489.9" cy="2074.0" r="6.45"/><circle cx="1487.9" cy="2080.4" r="6.45"/><circle cx="1482.4" cy="2093.5" r="6.45"/><circle cx="1493.5" cy="2094.9" r="6.45"/><circle cx="1486.0" cy="2124.1" r="6.45"/><circle cx="1497.1" cy="2131.6" r="6.45"/><circle cx="1484.3" cy="2145.2" r="6.45"/><circle cx="1495.4" cy="2147.7" r="6.45"/><circle cx="1471.2" cy="2159.6" r="6.45"/><circle cx="1526.8" cy="2089.3" r="6.45"/><circle cx="1536.0" cy="2090.7" r="6.45"/><circle cx="1530.4" cy="2110.4" r="6.45"/><circle cx="1528.8" cy="2125.5" r="6.45"/><circle cx="1534.3" cy="2140.7" r="6.45"/><circle cx="1550.7" cy="2150.5" r="6.45"/><circle cx="1547.1" cy="2156.0" r="6.45"/><circle cx="1541.6" cy="2175.5" r="6.45"/><circle cx="1549.1" cy="2176.9" r="6.45"/><circle cx="1532.4" cy="2183.3" r="6.45"/><circle cx="1538.0" cy="2185.2" r="6.45"/><circle cx="1556.3" cy="2183.8" r="6.45"/><circle cx="1552.7" cy="2198.3" r="6.45"/><circle cx="1554.4" cy="2204.7" r="6.45"/><circle cx="1545.2" cy="2215.8" r="6.45"/><circle cx="1543.5" cy="2225.0" r="6.45"/><circle cx="1560.2" cy="2231.6" r="6.45"/><circle cx="1558.2" cy="2242.8" r="6.45"/><circle cx="1563.5" cy="2108.8" r="6.45"/><circle cx="1565.5" cy="2112.1" r="6.45"/><circle cx="1571.0" cy="2139.4" r="6.45"/><circle cx="1567.4" cy="2154.1" r="6.45"/><circle cx="1573.0" cy="2085.1" r="6.45"/><circle cx="1569.4" cy="2093.5" r="6.45"/><circle cx="1578.5" cy="2092.6" r="6.45"/><circle cx="1576.6" cy="2067.1" r="6.45"/><circle cx="1580.2" cy="2069.3" r="6.45"/><circle cx="1574.6" cy="1939.2" r="6.45"/><circle cx="1585.8" cy="2104.6" r="6.45"/><circle cx="1584.1" cy="2114.3" r="6.45"/><circle cx="1582.2" cy="2108.8" r="6.45"/><circle cx="1582.2" cy="2196.3" r="6.45"/><circle cx="1596.8" cy="2041.5" r="6.45"/><circle cx="1602.4" cy="2050.4" r="6.45"/><circle cx="1609.9" cy="2050.4" r="6.45"/><circle cx="1617.1" cy="2046.8" r="6.45"/><circle cx="1600.5" cy="2061.5" r="6.45"/><circle cx="1611.6" cy="2058.7" r="6.45"/><circle cx="1598.8" cy="2078.2" r="6.45"/><circle cx="1594.9" cy="2095.4" r="6.45"/><circle cx="1588.0" cy="2099.0" r="6.45"/><circle cx="1593.2" cy="2124.1" r="6.45"/><circle cx="1589.3" cy="2134.6" r="6.45"/><circle cx="1604.4" cy="2141.6" r="6.45"/><circle cx="1606.0" cy="2158.8" r="6.45"/><circle cx="1591.3" cy="2189.4" r="6.45"/><circle cx="1619.1" cy="1985.1" r="6.45"/><circle cx="1630.2" cy="1985.6" r="6.45"/><circle cx="1613.5" cy="1995.1" r="6.45"/><circle cx="1621.0" cy="2013.7" r="6.45"/><circle cx="1628.3" cy="2017.0" r="6.45"/><circle cx="1615.5" cy="2021.8" r="6.45"/><circle cx="1608.0" cy="2029.5" r="6.45"/><circle cx="1626.3" cy="2059.3" r="6.45"/><circle cx="1624.6" cy="2098.5" r="6.45"/><circle cx="1631.9" cy="2114.3" r="6.45"/><circle cx="1643.3" cy="2115.7" r="6.45"/><circle cx="1622.7" cy="2176.3" r="6.45"/><circle cx="1635.8" cy="2212.2" r="6.45"/><circle cx="1652.4" cy="2051.2" r="6.45"/><circle cx="1648.8" cy="2056.0" r="6.45"/><circle cx="1650.5" cy="2061.0" r="6.45"/><circle cx="1644.9" cy="2064.3" r="6.45"/><circle cx="1637.7" cy="2070.4" r="6.45"/><circle cx="1633.8" cy="2074.0" r="6.45"/><circle cx="1646.9" cy="2090.7" r="6.45"/><circle cx="1641.3" cy="2096.3" r="6.45"/><circle cx="1639.9" cy="2099.9" r="6.45"/><circle cx="1656.1" cy="2148.2" r="6.45"/><circle cx="1652.4" cy="2153.3" r="6.45"/><circle cx="1660.0" cy="2156.0" r="6.45"/><circle cx="1665.2" cy="2151.9" r="6.45"/><circle cx="1670.8" cy="2158.3" r="6.45"/><circle cx="1661.6" cy="2169.4" r="6.45"/><circle cx="1657.7" cy="2208.6" r="6.45"/><circle cx="1674.4" cy="2012.9" r="6.45"/><circle cx="1676.4" cy="2058.2" r="6.45"/><circle cx="1668.8" cy="2071.2" r="6.45"/><circle cx="1683.9" cy="2076.0" r="6.45"/><circle cx="1687.5" cy="2093.5" r="6.45"/><circle cx="1693.0" cy="2106.0" r="6.45"/><circle cx="1689.1" cy="2104.0" r="6.45"/><circle cx="1685.5" cy="2110.2" r="6.45"/><circle cx="1681.9" cy="2112.9" r="6.45"/><circle cx="1672.7" cy="2119.3" r="6.45"/><circle cx="1667.2" cy="2125.5" r="6.45"/><circle cx="1662.2" cy="2126.8" r="6.45"/><circle cx="1678.3" cy="2136.8" r="6.45"/><circle cx="1691.1" cy="2127.7" r="6.45"/><circle cx="1680.2" cy="2176.0" r="6.45"/><circle cx="1694.7" cy="2015.6" r="6.45"/><circle cx="1698.6" cy="1944.8" r="6.45"/><circle cx="1700.3" cy="2055.1" r="6.45"/><circle cx="1704.2" cy="2069.0" r="6.45"/><circle cx="1702.2" cy="2074.0" r="6.45"/><circle cx="1696.6" cy="2082.9" r="6.45"/><circle cx="1709.7" cy="2126.8" r="6.45"/><circle cx="1704.2" cy="2131.0" r="6.45"/><circle cx="1707.8" cy="2136.6" r="6.45"/><circle cx="1718.9" cy="2139.4" r="6.45"/><circle cx="1716.9" cy="2164.6" r="6.45"/><circle cx="1713.3" cy="2207.5" r="6.45"/><circle cx="1715.3" cy="2218.0" r="6.45"/><circle cx="1722.5" cy="2049.0" r="6.45"/><circle cx="1720.6" cy="2072.6" r="6.45"/><circle cx="1724.4" cy="2081.0" r="6.45"/><circle cx="1726.4" cy="1962.8" r="6.45"/><circle cx="1730.0" cy="1985.9" r="6.45"/><circle cx="1733.6" cy="2005.4" r="6.45"/><circle cx="1739.2" cy="2003.1" r="6.45"/><circle cx="1744.7" cy="2001.7" r="6.45"/><circle cx="1728.1" cy="2030.4" r="6.45"/><circle cx="1735.6" cy="2032.3" r="6.45"/><circle cx="1739.2" cy="2051.8" r="6.45"/><circle cx="1732.0" cy="2057.6" r="6.45"/><circle cx="1741.1" cy="2084.6" r="6.45"/><circle cx="1744.2" cy="2085.1" r="6.45"/><circle cx="1746.4" cy="1948.1" r="6.45"/><circle cx="1748.4" cy="1957.3" r="6.45"/><circle cx="1753.9" cy="2064.3" r="6.45"/><circle cx="1750.3" cy="2072.6" r="6.45"/><circle cx="1759.5" cy="2027.3" r="6.45"/><circle cx="1766.7" cy="2042.3" r="6.45"/><circle cx="1752.0" cy="2105.2" r="6.45"/><circle cx="1765.0" cy="2103.2" r="6.45"/><circle cx="1770.6" cy="2109.3" r="6.45"/><circle cx="1776.2" cy="2096.3" r="6.45"/><circle cx="1761.4" cy="2124.6" r="6.45"/><circle cx="1757.5" cy="2147.7" r="6.45"/><circle cx="1753.9" cy="2153.8" r="6.45"/><circle cx="1763.1" cy="2158.8" r="6.45"/><circle cx="1774.2" cy="2154.6" r="6.45"/><circle cx="1777.8" cy="2167.2" r="6.45"/><circle cx="1772.3" cy="2175.5" r="6.45"/><circle cx="1789.2" cy="2160.2" r="6.45"/><circle cx="1781.7" cy="1975.3" r="6.45"/><circle cx="1785.3" cy="1988.1" r="6.45"/><circle cx="1787.3" cy="2021.2" r="6.45"/><circle cx="1783.7" cy="2023.4" r="6.45"/><circle cx="1779.8" cy="2028.2" r="6.45"/><circle cx="1792.8" cy="2047.6" r="6.45"/><circle cx="1790.9" cy="2057.9" r="6.45"/><circle cx="1798.4" cy="2072.6" r="6.45"/><circle cx="1794.8" cy="2082.4" r="6.45"/><circle cx="1796.4" cy="2116.6" r="6.45"/><circle cx="1805.6" cy="2031.8" r="6.45"/><circle cx="1804.0" cy="2062.1" r="6.45"/><circle cx="1800.3" cy="2131.0" r="6.45"/><circle cx="1809.5" cy="2131.6" r="6.45"/><circle cx="1802.0" cy="2141.6" r="6.45"/><circle cx="1815.1" cy="2139.4" r="6.45"/><circle cx="1820.4" cy="2133.8" r="6.45"/><circle cx="1813.1" cy="2154.1" r="6.45"/><circle cx="1811.2" cy="2161.6" r="6.45"/><circle cx="1824.2" cy="2155.2" r="6.45"/><circle cx="1807.6" cy="2183.8" r="6.45"/><circle cx="1816.7" cy="2216.4" r="6.45"/><circle cx="1822.3" cy="1981.2" r="6.45"/><circle cx="1829.5" cy="1952.5" r="6.45"/><circle cx="1818.7" cy="2053.2" r="6.45"/><circle cx="1829.5" cy="2058.2" r="6.45"/><circle cx="1825.9" cy="2069.9" r="6.45"/><circle cx="1835.4" cy="2042.6" r="6.45"/><circle cx="1842.6" cy="2035.7" r="6.45"/><circle cx="1848.2" cy="2042.9" r="6.45"/><circle cx="1844.5" cy="2025.1" r="6.45"/><circle cx="1840.6" cy="2088.8" r="6.45"/><circle cx="1833.4" cy="2096.3" r="6.45"/><circle cx="1837.0" cy="2099.6" r="6.45"/><circle cx="1846.2" cy="2113.2" r="6.45"/><circle cx="1839.0" cy="2133.8" r="6.45"/><circle cx="1850.1" cy="2129.6" r="6.45"/><circle cx="1851.8" cy="2138.5" r="6.45"/>
</g>
<rect x="226.0" y="1833.0" width="1658.0" height="638.0" fill="none" stroke="#000" stroke-width="5.8"/>
<g class="b a" text-anchor="middle">
<text class="" transform="translate(258.0 2537.5) scale(1 1.06)">0</text>
<text class="" transform="translate(391.0 2537.5) scale(1 1.06)">6</text>
<text class="" transform="translate(524.0 2537.5) scale(1 1.06)">12</text>
<text class="" transform="translate(656.9 2537.5) scale(1 1.06)">18</text>
<text class="" transform="translate(789.9 2537.5) scale(1 1.06)">24</text>
<text class="" transform="translate(922.9 2537.5) scale(1 1.06)">30</text>
<text class="" transform="translate(1055.9 2537.5) scale(1 1.06)">36</text>
<text class="" transform="translate(1188.8 2537.5) scale(1 1.06)">42</text>
<text class="" transform="translate(1321.8 2537.5) scale(1 1.06)">48</text>
<text class="" transform="translate(1454.8 2537.5) scale(1 1.06)">54</text>
<text class="" transform="translate(1587.8 2537.5) scale(1 1.06)">60</text>
<text class="" transform="translate(1720.8 2537.5) scale(1 1.06)">66</text>
<text class="" transform="translate(1853.7 2537.5) scale(1 1.06)">72</text>
</g>
<g class="b a" text-anchor="end">
<text class="" transform="translate(191.0 1929.2) scale(1 1.06)">20</text>
<text class="" transform="translate(191.0 2026.8) scale(1 1.06)">10</text>
<text class="" transform="translate(191.0 2124.4) scale(1 1.06)">0</text>
<text class="" transform="translate(191.0 2222.0) scale(1 1.06)"><tspan dy="3.7">−</tspan><tspan dy="-3.7">10</tspan></text>
<text class="" transform="translate(191.0 2319.6) scale(1 1.06)"><tspan dy="3.7">−</tspan><tspan dy="-3.7">20</tspan></text>
<text class="" transform="translate(191.0 2417.3) scale(1 1.06)"><tspan dy="3.7">−</tspan><tspan dy="-3.7">30</tspan></text>
</g>
<text class="l" transform="translate(90.2 2152.0) rotate(-90) scale(1 1.045)">Up (mm)</text>
<text class="l" transform="translate(1054.5 2595.4) scale(1 1.045)">Time (hours since beginning of first day UTC)</text>
<rect x="226" y="2700" width="1658" height="153" fill="none" stroke="#000" stroke-width="5.8"/>
<text class="b f" transform="translate(1054.2 2739.1) scale(1 1.06)" style="font-size:42.5px">Processed Using JPL Rapid Orbits</text>
<text class="b f" transform="translate(1054.0 2779.1) scale(1 1.06)">by the Nevada Geodetic Laboratory.</text>
<text class="b f" transform="translate(1054.2 2819.6) scale(1 1.06)">Plotted on 2026-Jan-11.</text>
</svg></body></html>
